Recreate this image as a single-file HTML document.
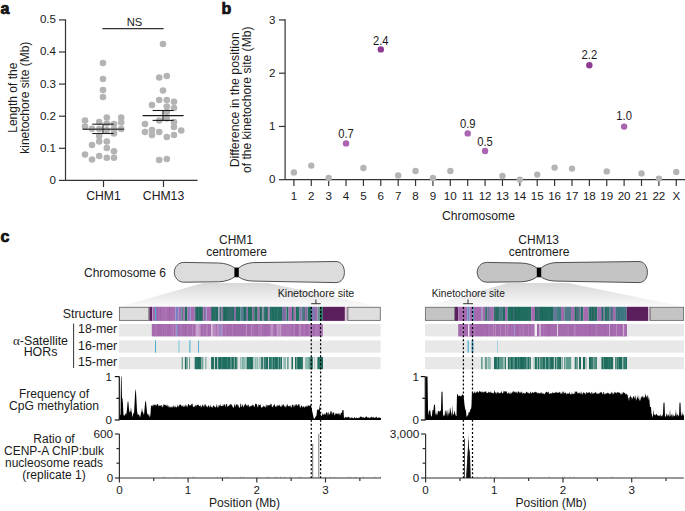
<!DOCTYPE html>
<html><head><meta charset="utf-8"><style>
html,body{margin:0;padding:0;background:#fff;width:685px;height:511px;overflow:hidden;}
svg{display:block;font-family:"Liberation Sans", sans-serif;}
text{fill:#1a1a1a;}
</style></head><body>
<svg width="685" height="511" viewBox="0 0 685 511">
<rect width="685" height="511" fill="#fff"/>
<text x="0.50" y="13.60" font-size="16" text-anchor="start" font-weight="bold" stroke="#000" stroke-width="0.7">a</text>
<text x="221.50" y="13.60" font-size="16" text-anchor="start" font-weight="bold" stroke="#000" stroke-width="0.7">b</text>
<text x="0.50" y="241.60" font-size="16" text-anchor="start" font-weight="bold" stroke="#000" stroke-width="0.7">c</text>
<line x1="65.50" y1="19.40" x2="65.50" y2="180.40" stroke="#333" stroke-width="1.2" />
<line x1="65.50" y1="180.40" x2="197.50" y2="180.40" stroke="#333" stroke-width="1.2" />
<line x1="59.00" y1="180.40" x2="65.50" y2="180.40" stroke="#333" stroke-width="1.2" />
<text x="56.00" y="183.80" font-size="11.6" text-anchor="end" font-weight="normal" >0</text>
<line x1="59.00" y1="148.30" x2="65.50" y2="148.30" stroke="#333" stroke-width="1.2" />
<text x="56.00" y="151.70" font-size="11.6" text-anchor="end" font-weight="normal" >0.1</text>
<line x1="59.00" y1="116.20" x2="65.50" y2="116.20" stroke="#333" stroke-width="1.2" />
<text x="56.00" y="119.60" font-size="11.6" text-anchor="end" font-weight="normal" >0.2</text>
<line x1="59.00" y1="84.10" x2="65.50" y2="84.10" stroke="#333" stroke-width="1.2" />
<text x="56.00" y="87.50" font-size="11.6" text-anchor="end" font-weight="normal" >0.3</text>
<line x1="59.00" y1="52.00" x2="65.50" y2="52.00" stroke="#333" stroke-width="1.2" />
<text x="56.00" y="55.40" font-size="11.6" text-anchor="end" font-weight="normal" >0.4</text>
<line x1="59.00" y1="19.90" x2="65.50" y2="19.90" stroke="#333" stroke-width="1.2" />
<text x="56.00" y="23.30" font-size="11.6" text-anchor="end" font-weight="normal" >0.5</text>
<line x1="103.50" y1="180.40" x2="103.50" y2="187.00" stroke="#333" stroke-width="1.2" />
<line x1="163.50" y1="180.40" x2="163.50" y2="187.00" stroke="#333" stroke-width="1.2" />
<text x="103.50" y="200.00" font-size="12.2" text-anchor="middle" font-weight="normal" >CHM1</text>
<text x="163.50" y="200.00" font-size="12.2" text-anchor="middle" font-weight="normal" >CHM13</text>
<line x1="102.40" y1="28.60" x2="163.60" y2="28.60" stroke="#333" stroke-width="1.2" />
<text x="134.50" y="25.60" font-size="11.2" text-anchor="middle" font-weight="normal" >NS</text>
<g transform="translate(0,0)">
<text x="0.00" y="0.00" font-size="12" text-anchor="middle" font-weight="normal" transform="translate(16.6,97.7) rotate(-90)">Length of the</text>
<text x="0.00" y="0.00" font-size="12" text-anchor="middle" font-weight="normal" transform="translate(28.6,97.7) rotate(-90)">kinetochore site (Mb)</text>
</g>
<circle cx="103.00" cy="63.00" r="3.3" fill="#b4b4b4"/>
<circle cx="103.00" cy="79.00" r="3.3" fill="#b4b4b4"/>
<circle cx="103.00" cy="90.00" r="3.3" fill="#b4b4b4"/>
<circle cx="103.00" cy="97.00" r="3.3" fill="#b4b4b4"/>
<circle cx="85.00" cy="120.50" r="3.3" fill="#b4b4b4"/>
<circle cx="85.00" cy="126.50" r="3.3" fill="#b4b4b4"/>
<circle cx="92.00" cy="128.80" r="3.3" fill="#b4b4b4"/>
<circle cx="99.20" cy="122.00" r="3.3" fill="#b4b4b4"/>
<circle cx="99.20" cy="129.00" r="3.3" fill="#b4b4b4"/>
<circle cx="99.20" cy="136.00" r="3.3" fill="#b4b4b4"/>
<circle cx="99.20" cy="141.50" r="3.3" fill="#b4b4b4"/>
<circle cx="106.80" cy="117.50" r="3.3" fill="#b4b4b4"/>
<circle cx="106.80" cy="123.50" r="3.3" fill="#b4b4b4"/>
<circle cx="106.80" cy="130.00" r="3.3" fill="#b4b4b4"/>
<circle cx="114.00" cy="124.00" r="3.3" fill="#b4b4b4"/>
<circle cx="114.00" cy="129.00" r="3.3" fill="#b4b4b4"/>
<circle cx="114.00" cy="133.50" r="3.3" fill="#b4b4b4"/>
<circle cx="121.20" cy="117.50" r="3.3" fill="#b4b4b4"/>
<circle cx="121.20" cy="122.50" r="3.3" fill="#b4b4b4"/>
<circle cx="121.20" cy="129.00" r="3.3" fill="#b4b4b4"/>
<circle cx="92.00" cy="145.00" r="3.3" fill="#b4b4b4"/>
<circle cx="106.80" cy="141.50" r="3.3" fill="#b4b4b4"/>
<circle cx="106.80" cy="148.00" r="3.3" fill="#b4b4b4"/>
<circle cx="114.00" cy="151.20" r="3.3" fill="#b4b4b4"/>
<circle cx="85.00" cy="154.50" r="3.3" fill="#b4b4b4"/>
<circle cx="92.00" cy="159.50" r="3.3" fill="#b4b4b4"/>
<circle cx="99.20" cy="156.00" r="3.3" fill="#b4b4b4"/>
<circle cx="106.80" cy="157.80" r="3.3" fill="#b4b4b4"/>
<circle cx="114.00" cy="157.80" r="3.3" fill="#b4b4b4"/>
<circle cx="163.00" cy="44.00" r="3.3" fill="#b4b4b4"/>
<circle cx="159.20" cy="77.50" r="3.3" fill="#b4b4b4"/>
<circle cx="166.80" cy="76.00" r="3.3" fill="#b4b4b4"/>
<circle cx="163.00" cy="90.50" r="3.3" fill="#b4b4b4"/>
<circle cx="159.20" cy="100.00" r="3.3" fill="#b4b4b4"/>
<circle cx="166.80" cy="100.00" r="3.3" fill="#b4b4b4"/>
<circle cx="174.00" cy="101.70" r="3.3" fill="#b4b4b4"/>
<circle cx="152.00" cy="105.00" r="3.3" fill="#b4b4b4"/>
<circle cx="166.80" cy="106.50" r="3.3" fill="#b4b4b4"/>
<circle cx="174.00" cy="108.00" r="3.3" fill="#b4b4b4"/>
<circle cx="166.80" cy="112.00" r="3.3" fill="#b4b4b4"/>
<circle cx="159.20" cy="120.50" r="3.3" fill="#b4b4b4"/>
<circle cx="166.80" cy="118.50" r="3.3" fill="#b4b4b4"/>
<circle cx="174.00" cy="122.00" r="3.3" fill="#b4b4b4"/>
<circle cx="145.00" cy="124.00" r="3.3" fill="#b4b4b4"/>
<circle cx="174.00" cy="127.00" r="3.3" fill="#b4b4b4"/>
<circle cx="152.00" cy="130.00" r="3.3" fill="#b4b4b4"/>
<circle cx="145.00" cy="132.00" r="3.3" fill="#b4b4b4"/>
<circle cx="152.00" cy="135.00" r="3.3" fill="#b4b4b4"/>
<circle cx="159.20" cy="132.00" r="3.3" fill="#b4b4b4"/>
<circle cx="166.80" cy="137.00" r="3.3" fill="#b4b4b4"/>
<circle cx="174.00" cy="135.00" r="3.3" fill="#b4b4b4"/>
<circle cx="181.20" cy="130.50" r="3.3" fill="#b4b4b4"/>
<circle cx="159.20" cy="160.00" r="3.3" fill="#b4b4b4"/>
<circle cx="166.80" cy="159.00" r="3.3" fill="#b4b4b4"/>
<line x1="82.50" y1="129.20" x2="124.00" y2="129.20" stroke="#4a4a4a" stroke-width="1.5" />
<line x1="92.20" y1="124.20" x2="113.80" y2="124.20" stroke="#222" stroke-width="1.1" />
<line x1="92.20" y1="133.50" x2="113.80" y2="133.50" stroke="#222" stroke-width="1.1" />
<line x1="103.00" y1="124.20" x2="103.00" y2="133.50" stroke="#222" stroke-width="1.1" />
<line x1="142.60" y1="115.60" x2="183.60" y2="115.60" stroke="#1a1a1a" stroke-width="1.1" />
<line x1="152.60" y1="110.50" x2="173.60" y2="110.50" stroke="#1a1a1a" stroke-width="1.1" />
<line x1="152.60" y1="120.40" x2="173.60" y2="120.40" stroke="#1a1a1a" stroke-width="1.1" />
<line x1="163.00" y1="110.50" x2="163.00" y2="120.40" stroke="#1a1a1a" stroke-width="1.1" />
<line x1="285.10" y1="19.30" x2="285.10" y2="179.70" stroke="#333" stroke-width="1.2" />
<line x1="285.10" y1="179.70" x2="685.00" y2="179.70" stroke="#333" stroke-width="1.2" />
<line x1="279.00" y1="179.70" x2="285.10" y2="179.70" stroke="#333" stroke-width="1.2" />
<text x="275.50" y="183.30" font-size="11.6" text-anchor="end" font-weight="normal" >0</text>
<line x1="279.00" y1="126.45" x2="285.10" y2="126.45" stroke="#333" stroke-width="1.2" />
<text x="275.50" y="130.05" font-size="11.6" text-anchor="end" font-weight="normal" >1</text>
<line x1="279.00" y1="73.20" x2="285.10" y2="73.20" stroke="#333" stroke-width="1.2" />
<text x="275.50" y="76.80" font-size="11.6" text-anchor="end" font-weight="normal" >2</text>
<line x1="279.00" y1="19.95" x2="285.10" y2="19.95" stroke="#333" stroke-width="1.2" />
<text x="275.50" y="23.55" font-size="11.6" text-anchor="end" font-weight="normal" >3</text>
<line x1="293.90" y1="179.70" x2="293.90" y2="186.00" stroke="#333" stroke-width="1.2" />
<text x="293.90" y="199.80" font-size="11.6" text-anchor="middle" font-weight="normal" >1</text>
<line x1="311.28" y1="179.70" x2="311.28" y2="186.00" stroke="#333" stroke-width="1.2" />
<text x="311.28" y="199.80" font-size="11.6" text-anchor="middle" font-weight="normal" >2</text>
<line x1="328.66" y1="179.70" x2="328.66" y2="186.00" stroke="#333" stroke-width="1.2" />
<text x="328.66" y="199.80" font-size="11.6" text-anchor="middle" font-weight="normal" >3</text>
<line x1="346.04" y1="179.70" x2="346.04" y2="186.00" stroke="#333" stroke-width="1.2" />
<text x="346.04" y="199.80" font-size="11.6" text-anchor="middle" font-weight="normal" >4</text>
<line x1="363.42" y1="179.70" x2="363.42" y2="186.00" stroke="#333" stroke-width="1.2" />
<text x="363.42" y="199.80" font-size="11.6" text-anchor="middle" font-weight="normal" >5</text>
<line x1="380.80" y1="179.70" x2="380.80" y2="186.00" stroke="#333" stroke-width="1.2" />
<text x="380.80" y="199.80" font-size="11.6" text-anchor="middle" font-weight="normal" >6</text>
<line x1="398.18" y1="179.70" x2="398.18" y2="186.00" stroke="#333" stroke-width="1.2" />
<text x="398.18" y="199.80" font-size="11.6" text-anchor="middle" font-weight="normal" >7</text>
<line x1="415.56" y1="179.70" x2="415.56" y2="186.00" stroke="#333" stroke-width="1.2" />
<text x="415.56" y="199.80" font-size="11.6" text-anchor="middle" font-weight="normal" >8</text>
<line x1="432.94" y1="179.70" x2="432.94" y2="186.00" stroke="#333" stroke-width="1.2" />
<text x="432.94" y="199.80" font-size="11.6" text-anchor="middle" font-weight="normal" >9</text>
<line x1="450.32" y1="179.70" x2="450.32" y2="186.00" stroke="#333" stroke-width="1.2" />
<text x="450.32" y="199.80" font-size="11.6" text-anchor="middle" font-weight="normal" >10</text>
<line x1="467.70" y1="179.70" x2="467.70" y2="186.00" stroke="#333" stroke-width="1.2" />
<text x="467.70" y="199.80" font-size="11.6" text-anchor="middle" font-weight="normal" >11</text>
<line x1="485.08" y1="179.70" x2="485.08" y2="186.00" stroke="#333" stroke-width="1.2" />
<text x="485.08" y="199.80" font-size="11.6" text-anchor="middle" font-weight="normal" >12</text>
<line x1="502.46" y1="179.70" x2="502.46" y2="186.00" stroke="#333" stroke-width="1.2" />
<text x="502.46" y="199.80" font-size="11.6" text-anchor="middle" font-weight="normal" >13</text>
<line x1="519.84" y1="179.70" x2="519.84" y2="186.00" stroke="#333" stroke-width="1.2" />
<text x="519.84" y="199.80" font-size="11.6" text-anchor="middle" font-weight="normal" >14</text>
<line x1="537.22" y1="179.70" x2="537.22" y2="186.00" stroke="#333" stroke-width="1.2" />
<text x="537.22" y="199.80" font-size="11.6" text-anchor="middle" font-weight="normal" >15</text>
<line x1="554.60" y1="179.70" x2="554.60" y2="186.00" stroke="#333" stroke-width="1.2" />
<text x="554.60" y="199.80" font-size="11.6" text-anchor="middle" font-weight="normal" >16</text>
<line x1="571.98" y1="179.70" x2="571.98" y2="186.00" stroke="#333" stroke-width="1.2" />
<text x="571.98" y="199.80" font-size="11.6" text-anchor="middle" font-weight="normal" >17</text>
<line x1="589.36" y1="179.70" x2="589.36" y2="186.00" stroke="#333" stroke-width="1.2" />
<text x="589.36" y="199.80" font-size="11.6" text-anchor="middle" font-weight="normal" >18</text>
<line x1="606.74" y1="179.70" x2="606.74" y2="186.00" stroke="#333" stroke-width="1.2" />
<text x="606.74" y="199.80" font-size="11.6" text-anchor="middle" font-weight="normal" >19</text>
<line x1="624.12" y1="179.70" x2="624.12" y2="186.00" stroke="#333" stroke-width="1.2" />
<text x="624.12" y="199.80" font-size="11.6" text-anchor="middle" font-weight="normal" >20</text>
<line x1="641.50" y1="179.70" x2="641.50" y2="186.00" stroke="#333" stroke-width="1.2" />
<text x="641.50" y="199.80" font-size="11.6" text-anchor="middle" font-weight="normal" >21</text>
<line x1="658.88" y1="179.70" x2="658.88" y2="186.00" stroke="#333" stroke-width="1.2" />
<text x="658.88" y="199.80" font-size="11.6" text-anchor="middle" font-weight="normal" >22</text>
<line x1="676.26" y1="179.70" x2="676.26" y2="186.00" stroke="#333" stroke-width="1.2" />
<text x="676.26" y="199.80" font-size="11.6" text-anchor="middle" font-weight="normal" >X</text>
<text x="478.50" y="219.50" font-size="12.15" text-anchor="middle" font-weight="normal" >Chromosome</text>
<text x="0.00" y="0.00" font-size="12.3" text-anchor="middle" font-weight="normal" transform="translate(239.2,99.8) rotate(-90)">Difference in the position</text>
<text x="0.00" y="0.00" font-size="12.1" text-anchor="middle" font-weight="normal" transform="translate(250.6,99.8) rotate(-90)">of the kinetochore site (Mb)</text>
<circle cx="293.90" cy="172.40" r="3.2" fill="#b4b4b4"/>
<circle cx="311.28" cy="165.60" r="3.2" fill="#b4b4b4"/>
<circle cx="328.66" cy="178.00" r="3.2" fill="#b4b4b4"/>
<text x="346.04" y="138.20" font-size="12.2" text-anchor="middle" font-weight="normal" textLength="15.6" lengthAdjust="spacingAndGlyphs">0.7</text>
<circle cx="346.04" cy="143.40" r="3.2" fill="#aa64b1"/>
<circle cx="363.42" cy="168.00" r="3.2" fill="#b4b4b4"/>
<text x="380.80" y="44.60" font-size="12.2" text-anchor="middle" font-weight="normal" textLength="15.6" lengthAdjust="spacingAndGlyphs">2.4</text>
<circle cx="380.80" cy="49.40" r="3.2" fill="#8e3b91"/>
<circle cx="398.18" cy="175.40" r="3.2" fill="#b4b4b4"/>
<circle cx="415.56" cy="171.00" r="3.2" fill="#b4b4b4"/>
<circle cx="432.94" cy="178.00" r="3.2" fill="#b4b4b4"/>
<circle cx="450.32" cy="171.00" r="3.2" fill="#b4b4b4"/>
<text x="467.70" y="128.40" font-size="12.2" text-anchor="middle" font-weight="normal" textLength="15.6" lengthAdjust="spacingAndGlyphs">0.9</text>
<circle cx="467.70" cy="133.40" r="3.2" fill="#aa64b1"/>
<text x="485.08" y="145.80" font-size="12.2" text-anchor="middle" font-weight="normal" textLength="15.6" lengthAdjust="spacingAndGlyphs">0.5</text>
<circle cx="485.08" cy="151.00" r="3.2" fill="#aa64b1"/>
<circle cx="502.46" cy="176.00" r="3.2" fill="#b4b4b4"/>
<circle cx="519.84" cy="179.60" r="3.2" fill="#b4b4b4"/>
<circle cx="537.22" cy="174.60" r="3.2" fill="#b4b4b4"/>
<circle cx="554.60" cy="167.60" r="3.2" fill="#b4b4b4"/>
<circle cx="571.98" cy="168.60" r="3.2" fill="#b4b4b4"/>
<text x="589.36" y="58.80" font-size="12.2" text-anchor="middle" font-weight="normal" textLength="15.6" lengthAdjust="spacingAndGlyphs">2.2</text>
<circle cx="589.36" cy="65.20" r="3.2" fill="#8e3b91"/>
<circle cx="606.74" cy="171.40" r="3.2" fill="#b4b4b4"/>
<text x="624.12" y="119.80" font-size="12.2" text-anchor="middle" font-weight="normal" textLength="15.6" lengthAdjust="spacingAndGlyphs">1.0</text>
<circle cx="624.12" cy="126.60" r="3.2" fill="#aa64b1"/>
<circle cx="641.50" cy="173.40" r="3.2" fill="#b4b4b4"/>
<circle cx="658.88" cy="178.60" r="3.2" fill="#b4b4b4"/>
<circle cx="676.26" cy="172.00" r="3.2" fill="#b4b4b4"/>
<defs><linearGradient id="g1" x1="0" y1="0" x2="0" y2="1"><stop offset="0" stop-color="#d8d8d8"/><stop offset="1" stop-color="#fbfbfb"/></linearGradient></defs>
<polygon points="203,283 268,283 380.6,306.8 119,306.8" fill="url(#g1)"/>
<defs><linearGradient id="g2" x1="0" y1="0" x2="0" y2="1"><stop offset="0" stop-color="#d8d8d8"/><stop offset="1" stop-color="#fbfbfb"/></linearGradient></defs>
<polygon points="508,283 568,283 684,306.8 425,306.8" fill="url(#g2)"/>
<path d="M234.4,267.9 C230.6,265.0 225.6,263.29999999999995 218.6,263.0 L183.8,262.4 C178.5,262.4 174.3,266.9 174.3,272.29999999999995 C174.3,277.69999999999993 178.5,282.2 183.8,282.2 L218.6,281.8 C225.6,281.5 230.6,279.8 234.4,276.9 L238.79999999999998,276.9 C242.6,279.59999999999997 246.6,280.8 253.6,281.09999999999997 L335.9,282.59999999999997 C341.4,282.59999999999997 344.4,277.9 344.4,272.29999999999995 C344.4,266.69999999999993 341.4,261.5 335.9,261.5 L253.6,262.59999999999997 C246.6,263.09999999999997 242.6,265.0 238.79999999999998,267.9 Z" fill="#dcdcdc" stroke="#2a2a2a" stroke-width="0.8"/>
<rect x="234.40" y="267.90" width="4.40" height="9.00" fill="#000" />
<path d="M536.8,267.9 C533,265.0 528,263.29999999999995 521,263.0 L486.7,262.4 C481.4,262.4 477.2,266.9 477.2,272.29999999999995 C477.2,277.69999999999993 481.4,282.2 486.7,282.2 L521,281.8 C528,281.5 533,279.8 536.8,276.9 L541.2,276.9 C545,279.59999999999997 549,280.8 556,281.09999999999997 L638.9,282.59999999999997 C644.4,282.59999999999997 647.4,277.9 647.4,272.29999999999995 C647.4,266.69999999999993 644.4,261.5 638.9,261.5 L556,262.59999999999997 C549,263.09999999999997 545,265.0 541.2,267.9 Z" fill="#c4c4c4" stroke="#2a2a2a" stroke-width="0.8"/>
<rect x="536.80" y="267.90" width="4.40" height="9.00" fill="#000" />
<text x="84.00" y="277.40" font-size="12" text-anchor="start" font-weight="normal" >Chromosome 6</text>
<text x="236.00" y="244.40" font-size="12" text-anchor="middle" font-weight="normal" >CHM1</text>
<text x="236.50" y="256.00" font-size="12" text-anchor="middle" font-weight="normal" >centromere</text>
<text x="538.70" y="244.40" font-size="12" text-anchor="middle" font-weight="normal" >CHM13</text>
<text x="539.00" y="256.00" font-size="12" text-anchor="middle" font-weight="normal" >centromere</text>
<rect x="149.30" y="306.80" width="2.70" height="14.10" fill="#5b1f5e" />
<rect x="152.00" y="306.80" width="0.60" height="14.10" fill="#8f8fb8" />
<rect x="152.60" y="306.80" width="22.90" height="14.10" fill="#a66aaf" />
<rect x="155.00" y="306.80" width="1.20" height="14.10" fill="#48abd3" />
<rect x="175.50" y="306.80" width="2.80" height="14.10" fill="#7c80c2" />
<rect x="178.30" y="306.80" width="3.20" height="14.10" fill="#9a70b4" />
<rect x="181.50" y="306.80" width="1.30" height="14.10" fill="#1e6d5e" />
<rect x="182.80" y="306.80" width="2.00" height="14.10" fill="#a66aaf" />
<rect x="184.80" y="306.80" width="2.70" height="14.10" fill="#1e6d5e" />
<rect x="187.50" y="306.80" width="1.50" height="14.10" fill="#a66aaf" />
<rect x="189.00" y="306.80" width="1.70" height="14.10" fill="#7c80c2" />
<rect x="190.70" y="306.80" width="4.00" height="14.10" fill="#a66aaf" />
<rect x="194.70" y="306.80" width="8.50" height="14.10" fill="#1e6d5e" />
<rect x="203.20" y="306.80" width="2.00" height="14.10" fill="#a66aaf" />
<rect x="205.20" y="306.80" width="1.30" height="14.10" fill="#7c80c2" />
<rect x="206.50" y="306.80" width="4.50" height="14.10" fill="#a66aaf" />
<rect x="211.00" y="306.80" width="7.30" height="14.10" fill="#1e6d5e" />
<rect x="218.30" y="306.80" width="1.30" height="14.10" fill="#a58cc0" />
<rect x="219.60" y="306.80" width="2.00" height="14.10" fill="#1e6d5e" />
<rect x="221.60" y="306.80" width="1.40" height="14.10" fill="#a66aaf" />
<rect x="223.00" y="306.80" width="11.00" height="14.10" fill="#1e6d5e" />
<rect x="234.00" y="306.80" width="2.00" height="14.10" fill="#8a6aa6" />
<rect x="236.00" y="306.80" width="4.60" height="14.10" fill="#1e6d5e" />
<rect x="240.60" y="306.80" width="3.40" height="14.10" fill="#5a7f95" />
<rect x="244.00" y="306.80" width="2.00" height="14.10" fill="#1e6d5e" />
<rect x="246.00" y="306.80" width="2.00" height="14.10" fill="#8c73a6" />
<rect x="248.00" y="306.80" width="4.50" height="14.10" fill="#1e6d5e" />
<rect x="252.50" y="306.80" width="1.90" height="14.10" fill="#a66aaf" />
<rect x="254.40" y="306.80" width="3.30" height="14.10" fill="#1e6d5e" />
<rect x="257.70" y="306.80" width="2.00" height="14.10" fill="#a66aaf" />
<rect x="259.70" y="306.80" width="2.60" height="14.10" fill="#1e6d5e" />
<rect x="262.30" y="306.80" width="1.30" height="14.10" fill="#7a7aa0" />
<rect x="263.60" y="306.80" width="4.60" height="14.10" fill="#1e6d5e" />
<rect x="268.20" y="306.80" width="1.30" height="14.10" fill="#a66aaf" />
<rect x="269.50" y="306.80" width="12.50" height="14.10" fill="#1e6d5e" />
<rect x="282.00" y="306.80" width="4.60" height="14.10" fill="#7f6fa5" />
<rect x="286.60" y="306.80" width="2.00" height="14.10" fill="#1e6d5e" />
<rect x="288.60" y="306.80" width="3.40" height="14.10" fill="#a66aaf" />
<rect x="292.00" y="306.80" width="1.80" height="14.10" fill="#1e6d5e" />
<rect x="293.80" y="306.80" width="2.00" height="14.10" fill="#a66aaf" />
<rect x="295.80" y="306.80" width="3.80" height="14.10" fill="#1e6d5e" />
<rect x="299.60" y="306.80" width="2.10" height="14.10" fill="#8a70a8" />
<rect x="301.70" y="306.80" width="3.30" height="14.10" fill="#4d7a86" />
<rect x="305.00" y="306.80" width="2.60" height="14.10" fill="#a66aaf" />
<rect x="307.60" y="306.80" width="3.40" height="14.10" fill="#1e6d5e" />
<rect x="311.00" y="306.80" width="4.00" height="14.10" fill="#7e78b0" />
<rect x="315.00" y="306.80" width="2.50" height="14.10" fill="#a66aaf" />
<rect x="317.50" y="306.80" width="2.00" height="14.10" fill="#6a8a95" />
<rect x="319.50" y="306.80" width="3.30" height="14.10" fill="#1e6d5e" />
<rect x="322.80" y="306.80" width="22.10" height="14.10" fill="#5b1f5e" />
<rect x="344.90" y="306.80" width="1.70" height="14.10" fill="#dccbdc" />
<rect x="346.60" y="306.80" width="1.00" height="14.10" fill="#a07aa0" />
<rect x="119.00" y="324.00" width="261.60" height="12.40" fill="#e8e8e8" />
<rect x="151.80" y="324.00" width="24.50" height="12.40" fill="#a66aaf" />
<rect x="176.30" y="324.00" width="1.60" height="12.40" fill="#7c80c2" />
<rect x="177.90" y="324.00" width="18.10" height="12.40" fill="#a66aaf" />
<rect x="196.00" y="324.00" width="3.30" height="12.40" fill="#c9a3cf" />
<rect x="199.30" y="324.00" width="11.70" height="12.40" fill="#a66aaf" />
<rect x="211.00" y="324.00" width="1.40" height="12.40" fill="#d9c3dc" />
<rect x="212.40" y="324.00" width="6.60" height="12.40" fill="#b88ac0" />
<rect x="219.00" y="324.00" width="3.30" height="12.40" fill="#9b84c4" />
<rect x="222.30" y="324.00" width="23.70" height="12.40" fill="#a66aaf" />
<rect x="246.00" y="324.00" width="1.00" height="12.40" fill="#c9a3cf" />
<rect x="247.00" y="324.00" width="23.80" height="12.40" fill="#a66aaf" />
<rect x="270.80" y="324.00" width="2.70" height="12.40" fill="#bb8fc3" />
<rect x="273.50" y="324.00" width="3.90" height="12.40" fill="#a66aaf" />
<rect x="277.40" y="324.00" width="4.00" height="12.40" fill="#c09ac6" />
<rect x="281.40" y="324.00" width="41.40" height="12.40" fill="#a66aaf" />
<rect x="119.00" y="340.40" width="261.60" height="12.30" fill="#e8e8e8" />
<rect x="155.00" y="340.40" width="1.00" height="12.30" fill="#48abd3" />
<rect x="178.40" y="340.40" width="1.20" height="12.30" fill="#8fcde0" />
<rect x="189.00" y="340.40" width="1.60" height="12.30" fill="#7cc4db" />
<rect x="198.00" y="340.40" width="0.90" height="12.30" fill="#48abd3" />
<rect x="119.00" y="357.00" width="261.60" height="12.20" fill="#e8e8e8" />
<rect x="181.80" y="357.00" width="0.80" height="12.20" fill="#1e6d5e" />
<rect x="184.90" y="357.00" width="2.60" height="12.20" fill="#1e6d5e" />
<rect x="189.00" y="357.00" width="0.60" height="12.20" fill="#1e6d5e" />
<rect x="194.70" y="357.00" width="8.60" height="12.20" fill="#1e6d5e" />
<rect x="205.20" y="357.00" width="1.30" height="12.20" fill="#8fbcb2" />
<rect x="211.10" y="357.00" width="26.30" height="12.20" fill="#1e6d5e" />
<rect x="241.40" y="357.00" width="4.60" height="12.20" fill="#8fbcb2" />
<rect x="246.60" y="357.00" width="6.60" height="12.20" fill="#1e6d5e" />
<rect x="254.50" y="357.00" width="3.30" height="12.20" fill="#8fbcb2" />
<rect x="261.00" y="357.00" width="2.00" height="12.20" fill="#1e6d5e" />
<rect x="263.50" y="357.00" width="4.50" height="12.20" fill="#1e6d5e" />
<rect x="268.80" y="357.00" width="13.20" height="12.20" fill="#1e6d5e" />
<rect x="283.30" y="357.00" width="2.70" height="12.20" fill="#8fbcb2" />
<rect x="287.20" y="357.00" width="1.30" height="12.20" fill="#1e6d5e" />
<rect x="291.80" y="357.00" width="1.20" height="12.20" fill="#1e6d5e" />
<rect x="295.00" y="357.00" width="8.00" height="12.20" fill="#1e6d5e" />
<rect x="305.00" y="357.00" width="5.20" height="12.20" fill="#8fbcb2" />
<rect x="310.20" y="357.00" width="2.60" height="12.20" fill="#1e6d5e" />
<rect x="317.40" y="357.00" width="5.60" height="12.20" fill="#1e6d5e" />
<rect x="157.14" y="306.8" width="0.86" height="14" fill="#9a60a6" opacity="0.7"/>
<rect x="160.21" y="306.8" width="0.72" height="14" fill="#9a60a6" opacity="0.7"/>
<rect x="162.01" y="306.8" width="0.73" height="14" fill="#b07bb8" opacity="0.7"/>
<rect x="164.04" y="306.8" width="0.34" height="14" fill="#b07bb8" opacity="0.7"/>
<rect x="165.40" y="306.8" width="0.84" height="14" fill="#b98ac0" opacity="0.7"/>
<rect x="169.12" y="306.8" width="0.76" height="14" fill="#9a60a6" opacity="0.7"/>
<rect x="173.90" y="306.8" width="0.38" height="14" fill="#b07bb8" opacity="0.7"/>
<rect x="195.00" y="306.8" width="0.89" height="14" fill="#a66aaf" opacity="0.5"/>
<rect x="197.31" y="306.8" width="0.34" height="14" fill="#175e50" opacity="0.5"/>
<rect x="198.45" y="306.8" width="0.70" height="14" fill="#6f7fa0" opacity="0.5"/>
<rect x="199.85" y="306.8" width="0.52" height="14" fill="#175e50" opacity="0.5"/>
<rect x="201.57" y="306.8" width="0.38" height="14" fill="#2f7e70" opacity="0.5"/>
<rect x="202.27" y="306.8" width="0.63" height="14" fill="#a66aaf" opacity="0.5"/>
<rect x="204.62" y="306.8" width="0.75" height="14" fill="#175e50" opacity="0.5"/>
<rect x="211.12" y="306.8" width="0.70" height="14" fill="#a66aaf" opacity="0.5"/>
<rect x="213.56" y="306.8" width="0.51" height="14" fill="#2f7e70" opacity="0.5"/>
<rect x="214.62" y="306.8" width="0.75" height="14" fill="#6f7fa0" opacity="0.5"/>
<rect x="220.52" y="306.8" width="0.47" height="14" fill="#a66aaf" opacity="0.5"/>
<rect x="222.12" y="306.8" width="0.57" height="14" fill="#2f7e70" opacity="0.5"/>
<rect x="223.49" y="306.8" width="0.37" height="14" fill="#6f7fa0" opacity="0.5"/>
<rect x="224.45" y="306.8" width="0.79" height="14" fill="#175e50" opacity="0.5"/>
<rect x="228.49" y="306.8" width="0.73" height="14" fill="#a66aaf" opacity="0.5"/>
<rect x="230.41" y="306.8" width="0.35" height="14" fill="#a66aaf" opacity="0.5"/>
<rect x="231.14" y="306.8" width="0.42" height="14" fill="#a66aaf" opacity="0.5"/>
<rect x="231.97" y="306.8" width="0.40" height="14" fill="#6f7fa0" opacity="0.5"/>
<rect x="234.71" y="306.8" width="0.32" height="14" fill="#6f7fa0" opacity="0.5"/>
<rect x="236.17" y="306.8" width="0.97" height="14" fill="#2f7e70" opacity="0.5"/>
<rect x="238.03" y="306.8" width="0.81" height="14" fill="#2f7e70" opacity="0.5"/>
<rect x="243.36" y="306.8" width="0.94" height="14" fill="#175e50" opacity="0.5"/>
<rect x="245.68" y="306.8" width="0.91" height="14" fill="#2f7e70" opacity="0.5"/>
<rect x="252.59" y="306.8" width="0.81" height="14" fill="#175e50" opacity="0.5"/>
<rect x="254.23" y="306.8" width="0.89" height="14" fill="#2f7e70" opacity="0.5"/>
<rect x="255.79" y="306.8" width="0.36" height="14" fill="#2f7e70" opacity="0.5"/>
<rect x="258.38" y="306.8" width="0.31" height="14" fill="#a66aaf" opacity="0.5"/>
<rect x="259.61" y="306.8" width="0.83" height="14" fill="#175e50" opacity="0.5"/>
<rect x="261.34" y="306.8" width="0.47" height="14" fill="#6f7fa0" opacity="0.5"/>
<rect x="264.35" y="306.8" width="0.92" height="14" fill="#6f7fa0" opacity="0.5"/>
<rect x="265.81" y="306.8" width="0.39" height="14" fill="#2f7e70" opacity="0.5"/>
<rect x="267.36" y="306.8" width="0.97" height="14" fill="#a66aaf" opacity="0.5"/>
<rect x="270.69" y="306.8" width="0.57" height="14" fill="#6f7fa0" opacity="0.5"/>
<rect x="273.99" y="306.8" width="0.88" height="14" fill="#2f7e70" opacity="0.5"/>
<rect x="275.98" y="306.8" width="0.50" height="14" fill="#2f7e70" opacity="0.5"/>
<rect x="277.55" y="306.8" width="0.58" height="14" fill="#6f7fa0" opacity="0.5"/>
<rect x="278.72" y="306.8" width="0.40" height="14" fill="#2f7e70" opacity="0.5"/>
<rect x="283.47" y="306.8" width="0.63" height="14" fill="#2f7e70" opacity="0.5"/>
<rect x="285.31" y="306.8" width="0.67" height="14" fill="#a66aaf" opacity="0.5"/>
<rect x="297.89" y="306.8" width="0.76" height="14" fill="#2f7e70" opacity="0.5"/>
<rect x="304.62" y="306.8" width="0.36" height="14" fill="#175e50" opacity="0.5"/>
<rect x="306.20" y="306.8" width="0.64" height="14" fill="#2f7e70" opacity="0.5"/>
<rect x="307.66" y="306.8" width="0.32" height="14" fill="#a66aaf" opacity="0.5"/>
<rect x="310.77" y="306.8" width="0.77" height="14" fill="#175e50" opacity="0.5"/>
<rect x="315.81" y="306.8" width="0.42" height="14" fill="#6f7fa0" opacity="0.5"/>
<rect x="321.97" y="306.8" width="0.03" height="14" fill="#175e50" opacity="0.5"/>
<rect x="155.51" y="324" width="0.78" height="12.4" fill="#bb8dc2" opacity="0.6"/>
<rect x="158.87" y="324" width="0.47" height="12.4" fill="#9c5fa8" opacity="0.6"/>
<rect x="161.91" y="324" width="0.52" height="12.4" fill="#bb8dc2" opacity="0.6"/>
<rect x="164.72" y="324" width="0.32" height="12.4" fill="#c9a3cf" opacity="0.6"/>
<rect x="166.17" y="324" width="0.53" height="12.4" fill="#bb8dc2" opacity="0.6"/>
<rect x="171.44" y="324" width="0.92" height="12.4" fill="#bb8dc2" opacity="0.6"/>
<rect x="173.16" y="324" width="0.67" height="12.4" fill="#c9a3cf" opacity="0.6"/>
<rect x="175.16" y="324" width="0.67" height="12.4" fill="#c9a3cf" opacity="0.6"/>
<rect x="180.67" y="324" width="0.52" height="12.4" fill="#c9a3cf" opacity="0.6"/>
<rect x="185.46" y="324" width="0.85" height="12.4" fill="#9c5fa8" opacity="0.6"/>
<rect x="187.37" y="324" width="0.86" height="12.4" fill="#bb8dc2" opacity="0.6"/>
<rect x="192.28" y="324" width="0.78" height="12.4" fill="#c9a3cf" opacity="0.6"/>
<rect x="195.29" y="324" width="0.93" height="12.4" fill="#c9a3cf" opacity="0.6"/>
<rect x="198.68" y="324" width="0.95" height="12.4" fill="#c9a3cf" opacity="0.6"/>
<rect x="200.09" y="324" width="0.78" height="12.4" fill="#c9a3cf" opacity="0.6"/>
<rect x="203.00" y="324" width="0.72" height="12.4" fill="#bb8dc2" opacity="0.6"/>
<rect x="204.07" y="324" width="0.44" height="12.4" fill="#9c5fa8" opacity="0.6"/>
<rect x="205.70" y="324" width="0.58" height="12.4" fill="#c9a3cf" opacity="0.6"/>
<rect x="206.70" y="324" width="0.85" height="12.4" fill="#c9a3cf" opacity="0.6"/>
<rect x="215.92" y="324" width="0.87" height="12.4" fill="#9c5fa8" opacity="0.6"/>
<rect x="221.12" y="324" width="0.54" height="12.4" fill="#c9a3cf" opacity="0.6"/>
<rect x="225.53" y="324" width="0.45" height="12.4" fill="#c9a3cf" opacity="0.6"/>
<rect x="232.33" y="324" width="0.48" height="12.4" fill="#c9a3cf" opacity="0.6"/>
<rect x="234.02" y="324" width="0.75" height="12.4" fill="#9c5fa8" opacity="0.6"/>
<rect x="241.90" y="324" width="0.95" height="12.4" fill="#9c5fa8" opacity="0.6"/>
<rect x="246.23" y="324" width="0.60" height="12.4" fill="#9c5fa8" opacity="0.6"/>
<rect x="247.76" y="324" width="0.72" height="12.4" fill="#9c5fa8" opacity="0.6"/>
<rect x="250.95" y="324" width="0.82" height="12.4" fill="#c9a3cf" opacity="0.6"/>
<rect x="252.77" y="324" width="0.74" height="12.4" fill="#bb8dc2" opacity="0.6"/>
<rect x="256.95" y="324" width="0.93" height="12.4" fill="#9c5fa8" opacity="0.6"/>
<rect x="258.49" y="324" width="0.83" height="12.4" fill="#c9a3cf" opacity="0.6"/>
<rect x="260.74" y="324" width="0.81" height="12.4" fill="#c9a3cf" opacity="0.6"/>
<rect x="263.80" y="324" width="0.44" height="12.4" fill="#bb8dc2" opacity="0.6"/>
<rect x="264.73" y="324" width="0.55" height="12.4" fill="#9c5fa8" opacity="0.6"/>
<rect x="272.93" y="324" width="0.74" height="12.4" fill="#9c5fa8" opacity="0.6"/>
<rect x="276.04" y="324" width="0.50" height="12.4" fill="#c9a3cf" opacity="0.6"/>
<rect x="277.43" y="324" width="0.76" height="12.4" fill="#bb8dc2" opacity="0.6"/>
<rect x="278.54" y="324" width="0.34" height="12.4" fill="#9c5fa8" opacity="0.6"/>
<rect x="279.21" y="324" width="0.33" height="12.4" fill="#9c5fa8" opacity="0.6"/>
<rect x="281.25" y="324" width="0.74" height="12.4" fill="#9c5fa8" opacity="0.6"/>
<rect x="282.72" y="324" width="0.54" height="12.4" fill="#c9a3cf" opacity="0.6"/>
<rect x="284.56" y="324" width="0.35" height="12.4" fill="#bb8dc2" opacity="0.6"/>
<rect x="286.22" y="324" width="0.84" height="12.4" fill="#bb8dc2" opacity="0.6"/>
<rect x="287.66" y="324" width="0.87" height="12.4" fill="#bb8dc2" opacity="0.6"/>
<rect x="289.83" y="324" width="0.72" height="12.4" fill="#bb8dc2" opacity="0.6"/>
<rect x="293.27" y="324" width="0.62" height="12.4" fill="#bb8dc2" opacity="0.6"/>
<rect x="294.29" y="324" width="0.69" height="12.4" fill="#bb8dc2" opacity="0.6"/>
<rect x="295.84" y="324" width="0.88" height="12.4" fill="#9c5fa8" opacity="0.6"/>
<rect x="297.28" y="324" width="0.76" height="12.4" fill="#9c5fa8" opacity="0.6"/>
<rect x="298.93" y="324" width="0.83" height="12.4" fill="#c9a3cf" opacity="0.6"/>
<rect x="300.33" y="324" width="0.76" height="12.4" fill="#c9a3cf" opacity="0.6"/>
<rect x="303.77" y="324" width="0.78" height="12.4" fill="#bb8dc2" opacity="0.6"/>
<rect x="305.81" y="324" width="0.51" height="12.4" fill="#9c5fa8" opacity="0.6"/>
<rect x="309.00" y="324" width="0.88" height="12.4" fill="#bb8dc2" opacity="0.6"/>
<rect x="310.65" y="324" width="0.57" height="12.4" fill="#bb8dc2" opacity="0.6"/>
<rect x="311.97" y="324" width="0.57" height="12.4" fill="#bb8dc2" opacity="0.6"/>
<rect x="315.30" y="324" width="0.50" height="12.4" fill="#bb8dc2" opacity="0.6"/>
<rect x="316.16" y="324" width="0.41" height="12.4" fill="#c9a3cf" opacity="0.6"/>
<rect x="317.66" y="324" width="0.86" height="12.4" fill="#bb8dc2" opacity="0.6"/>
<rect x="319.19" y="324" width="0.68" height="12.4" fill="#9c5fa8" opacity="0.6"/>
<rect x="321.05" y="324" width="0.93" height="12.4" fill="#bb8dc2" opacity="0.6"/>
<rect x="186.39" y="357" width="0.70" height="12.2" fill="#e8e8e8" opacity="0.7"/>
<rect x="200.96" y="357" width="0.49" height="12.2" fill="#e8e8e8" opacity="0.7"/>
<rect x="202.22" y="357" width="0.56" height="12.2" fill="#e8e8e8" opacity="0.7"/>
<rect x="203.65" y="357" width="0.67" height="12.2" fill="#e8e8e8" opacity="0.7"/>
<rect x="205.54" y="357" width="0.39" height="12.2" fill="#5e9c8e" opacity="0.7"/>
<rect x="238.64" y="357" width="0.55" height="12.2" fill="#e8e8e8" opacity="0.7"/>
<rect x="239.99" y="357" width="0.76" height="12.2" fill="#5e9c8e" opacity="0.7"/>
<rect x="242.36" y="357" width="0.72" height="12.2" fill="#5e9c8e" opacity="0.7"/>
<rect x="245.54" y="357" width="0.33" height="12.2" fill="#e8e8e8" opacity="0.7"/>
<rect x="252.60" y="357" width="0.61" height="12.2" fill="#5e9c8e" opacity="0.7"/>
<rect x="256.52" y="357" width="0.58" height="12.2" fill="#e8e8e8" opacity="0.7"/>
<rect x="257.63" y="357" width="0.67" height="12.2" fill="#5e9c8e" opacity="0.7"/>
<rect x="259.28" y="357" width="0.66" height="12.2" fill="#5e9c8e" opacity="0.7"/>
<rect x="260.35" y="357" width="0.37" height="12.2" fill="#17604f" opacity="0.7"/>
<rect x="261.77" y="357" width="0.39" height="12.2" fill="#e8e8e8" opacity="0.7"/>
<rect x="263.47" y="357" width="0.60" height="12.2" fill="#e8e8e8" opacity="0.7"/>
<rect x="268.31" y="357" width="0.37" height="12.2" fill="#e8e8e8" opacity="0.7"/>
<rect x="269.96" y="357" width="0.49" height="12.2" fill="#5e9c8e" opacity="0.7"/>
<rect x="272.85" y="357" width="0.69" height="12.2" fill="#17604f" opacity="0.7"/>
<rect x="274.48" y="357" width="0.43" height="12.2" fill="#5e9c8e" opacity="0.7"/>
<rect x="287.38" y="357" width="0.40" height="12.2" fill="#e8e8e8" opacity="0.7"/>
<rect x="288.66" y="357" width="0.51" height="12.2" fill="#e8e8e8" opacity="0.7"/>
<rect x="291.51" y="357" width="0.79" height="12.2" fill="#17604f" opacity="0.7"/>
<rect x="296.48" y="357" width="0.60" height="12.2" fill="#e8e8e8" opacity="0.7"/>
<rect x="297.73" y="357" width="0.75" height="12.2" fill="#17604f" opacity="0.7"/>
<rect x="308.48" y="357" width="0.56" height="12.2" fill="#5e9c8e" opacity="0.7"/>
<rect x="309.55" y="357" width="0.56" height="12.2" fill="#17604f" opacity="0.7"/>
<rect x="314.61" y="357" width="0.35" height="12.2" fill="#17604f" opacity="0.7"/>
<rect x="322.74" y="357" width="0.26" height="12.2" fill="#17604f" opacity="0.7"/>
<rect x="455.00" y="306.80" width="3.30" height="14.10" fill="#5b1f5e" />
<rect x="458.30" y="306.80" width="9.20" height="14.10" fill="#a66aaf" />
<rect x="467.50" y="306.80" width="1.90" height="14.10" fill="#48abd3" />
<rect x="469.40" y="306.80" width="3.30" height="14.10" fill="#a66aaf" />
<rect x="472.70" y="306.80" width="1.30" height="14.10" fill="#5aa0cc" />
<rect x="474.00" y="306.80" width="7.30" height="14.10" fill="#a66aaf" />
<rect x="481.30" y="306.80" width="1.30" height="14.10" fill="#7c80b0" />
<rect x="482.60" y="306.80" width="2.60" height="14.10" fill="#a66aaf" />
<rect x="485.20" y="306.80" width="2.00" height="14.10" fill="#1e6d5e" />
<rect x="487.20" y="306.80" width="3.80" height="14.10" fill="#8a73a8" />
<rect x="491.00" y="306.80" width="2.70" height="14.10" fill="#a66aaf" />
<rect x="493.70" y="306.80" width="5.30" height="14.10" fill="#1e6d5e" />
<rect x="499.00" y="306.80" width="4.00" height="14.10" fill="#4f7d88" />
<rect x="503.00" y="306.80" width="2.00" height="14.10" fill="#1e6d5e" />
<rect x="505.00" y="306.80" width="2.50" height="14.10" fill="#a66aaf" />
<rect x="507.50" y="306.80" width="23.70" height="14.10" fill="#1e6d5e" />
<rect x="531.20" y="306.80" width="3.80" height="14.10" fill="#a66aaf" />
<rect x="535.00" y="306.80" width="18.00" height="14.10" fill="#1e6d5e" />
<rect x="553.00" y="306.80" width="4.00" height="14.10" fill="#5f7a95" />
<rect x="557.00" y="306.80" width="4.00" height="14.10" fill="#3a7a80" />
<rect x="561.00" y="306.80" width="3.30" height="14.10" fill="#a66aaf" />
<rect x="564.30" y="306.80" width="6.70" height="14.10" fill="#4e7a8a" />
<rect x="571.00" y="306.80" width="3.80" height="14.10" fill="#a66aaf" />
<rect x="574.80" y="306.80" width="4.00" height="14.10" fill="#1e6d5e" />
<rect x="578.80" y="306.80" width="2.00" height="14.10" fill="#7b73a3" />
<rect x="580.80" y="306.80" width="2.60" height="14.10" fill="#1e6d5e" />
<rect x="583.40" y="306.80" width="5.20" height="14.10" fill="#a66aaf" />
<rect x="588.60" y="306.80" width="8.60" height="14.10" fill="#1e6d5e" />
<rect x="597.20" y="306.80" width="4.60" height="14.10" fill="#a66aaf" />
<rect x="601.80" y="306.80" width="1.20" height="14.10" fill="#1e6d5e" />
<rect x="603.00" y="306.80" width="1.40" height="14.10" fill="#8a70a8" />
<rect x="604.40" y="306.80" width="5.20" height="14.10" fill="#1e6d5e" />
<rect x="609.60" y="306.80" width="3.40" height="14.10" fill="#6f7a9c" />
<rect x="613.00" y="306.80" width="2.60" height="14.10" fill="#a66aaf" />
<rect x="615.60" y="306.80" width="11.10" height="14.10" fill="#3d7882" />
<rect x="626.70" y="306.80" width="21.70" height="14.10" fill="#5b1f5e" />
<rect x="648.40" y="306.80" width="1.00" height="14.10" fill="#dccbdc" />
<rect x="649.40" y="306.80" width="0.60" height="14.10" fill="#a07aa0" />
<rect x="425.00" y="324.00" width="259.00" height="12.40" fill="#e8e8e8" />
<rect x="458.20" y="324.00" width="168.80" height="12.40" fill="#a66aaf" />
<rect x="468.00" y="324.00" width="1.40" height="12.40" fill="#f2eef2" />
<rect x="513.80" y="324.00" width="1.20" height="12.40" fill="#9b90cc" />
<rect x="534.50" y="324.00" width="2.50" height="12.40" fill="#f2eef2" />
<rect x="539.50" y="324.00" width="1.00" height="12.40" fill="#f2eef2" />
<rect x="557.00" y="324.00" width="0.80" height="12.40" fill="#f2eef2" />
<rect x="609.00" y="324.00" width="0.80" height="12.40" fill="#eee4ee" />
<rect x="623.40" y="324.00" width="0.80" height="12.40" fill="#eee4ee" />
<rect x="425.00" y="340.40" width="259.00" height="12.30" fill="#e8e8e8" />
<rect x="467.60" y="340.40" width="1.20" height="12.30" fill="#48abd3" />
<rect x="471.60" y="340.40" width="1.80" height="12.30" fill="#48abd3" />
<rect x="497.00" y="340.40" width="0.80" height="12.30" fill="#8fcde0" />
<rect x="425.00" y="357.00" width="259.00" height="12.20" fill="#e8e8e8" />
<rect x="481.00" y="357.00" width="2.00" height="12.20" fill="#8fbcb2" />
<rect x="484.90" y="357.00" width="1.90" height="12.20" fill="#1e6d5e" />
<rect x="487.50" y="357.00" width="3.30" height="12.20" fill="#8fbcb2" />
<rect x="494.00" y="357.00" width="5.00" height="12.20" fill="#1e6d5e" />
<rect x="499.00" y="357.00" width="4.30" height="12.20" fill="#5b998a" />
<rect x="504.60" y="357.00" width="1.30" height="12.20" fill="#1e6d5e" />
<rect x="507.90" y="357.00" width="22.90" height="12.20" fill="#1e6d5e" />
<rect x="534.80" y="357.00" width="19.00" height="12.20" fill="#1e6d5e" />
<rect x="555.00" y="357.00" width="1.50" height="12.20" fill="#1e6d5e" />
<rect x="557.00" y="357.00" width="4.30" height="12.20" fill="#1e6d5e" />
<rect x="564.00" y="357.00" width="7.20" height="12.20" fill="#5e9a8d" />
<rect x="574.70" y="357.00" width="3.00" height="12.20" fill="#1e6d5e" />
<rect x="579.00" y="357.00" width="2.00" height="12.20" fill="#1e6d5e" />
<rect x="583.00" y="357.00" width="2.60" height="12.20" fill="#1e6d5e" />
<rect x="589.00" y="357.00" width="7.80" height="12.20" fill="#1e6d5e" />
<rect x="601.40" y="357.00" width="11.80" height="12.20" fill="#1e6d5e" />
<rect x="615.20" y="357.00" width="11.80" height="12.20" fill="#1e6d5e" />
<rect x="462.20" y="306.8" width="0.58" height="14" fill="#b07bb8" opacity="0.6"/>
<rect x="463.71" y="306.8" width="0.47" height="14" fill="#9a60a6" opacity="0.6"/>
<rect x="467.70" y="306.8" width="0.91" height="14" fill="#9a60a6" opacity="0.6"/>
<rect x="470.81" y="306.8" width="0.39" height="14" fill="#b07bb8" opacity="0.6"/>
<rect x="472.62" y="306.8" width="0.47" height="14" fill="#9a60a6" opacity="0.6"/>
<rect x="477.31" y="306.8" width="0.53" height="14" fill="#9a60a6" opacity="0.6"/>
<rect x="480.76" y="306.8" width="0.24" height="14" fill="#9a60a6" opacity="0.6"/>
<rect x="486.45" y="306.8" width="0.69" height="14" fill="#a66aaf" opacity="0.5"/>
<rect x="487.67" y="306.8" width="0.92" height="14" fill="#2f7e70" opacity="0.5"/>
<rect x="494.68" y="306.8" width="0.78" height="14" fill="#a66aaf" opacity="0.5"/>
<rect x="496.37" y="306.8" width="0.51" height="14" fill="#2f7e70" opacity="0.5"/>
<rect x="497.88" y="306.8" width="0.46" height="14" fill="#a66aaf" opacity="0.5"/>
<rect x="500.35" y="306.8" width="0.99" height="14" fill="#2f7e70" opacity="0.5"/>
<rect x="505.22" y="306.8" width="0.50" height="14" fill="#a66aaf" opacity="0.5"/>
<rect x="509.66" y="306.8" width="0.92" height="14" fill="#2f7e70" opacity="0.5"/>
<rect x="511.55" y="306.8" width="0.75" height="14" fill="#175e50" opacity="0.5"/>
<rect x="513.54" y="306.8" width="0.66" height="14" fill="#a66aaf" opacity="0.5"/>
<rect x="515.22" y="306.8" width="0.84" height="14" fill="#175e50" opacity="0.5"/>
<rect x="518.49" y="306.8" width="0.85" height="14" fill="#175e50" opacity="0.5"/>
<rect x="527.89" y="306.8" width="0.32" height="14" fill="#a66aaf" opacity="0.5"/>
<rect x="530.46" y="306.8" width="0.40" height="14" fill="#2f7e70" opacity="0.5"/>
<rect x="534.11" y="306.8" width="0.84" height="14" fill="#a66aaf" opacity="0.5"/>
<rect x="535.70" y="306.8" width="0.47" height="14" fill="#175e50" opacity="0.5"/>
<rect x="536.55" y="306.8" width="0.59" height="14" fill="#a66aaf" opacity="0.5"/>
<rect x="538.28" y="306.8" width="0.97" height="14" fill="#a66aaf" opacity="0.5"/>
<rect x="541.62" y="306.8" width="0.58" height="14" fill="#175e50" opacity="0.5"/>
<rect x="548.59" y="306.8" width="0.36" height="14" fill="#6f7fa0" opacity="0.5"/>
<rect x="556.72" y="306.8" width="0.85" height="14" fill="#6f7fa0" opacity="0.5"/>
<rect x="561.68" y="306.8" width="0.63" height="14" fill="#a66aaf" opacity="0.5"/>
<rect x="563.65" y="306.8" width="0.44" height="14" fill="#2f7e70" opacity="0.5"/>
<rect x="568.82" y="306.8" width="0.37" height="14" fill="#6f7fa0" opacity="0.5"/>
<rect x="572.41" y="306.8" width="0.90" height="14" fill="#6f7fa0" opacity="0.5"/>
<rect x="574.53" y="306.8" width="0.66" height="14" fill="#175e50" opacity="0.5"/>
<rect x="576.23" y="306.8" width="0.64" height="14" fill="#a66aaf" opacity="0.5"/>
<rect x="577.21" y="306.8" width="0.52" height="14" fill="#a66aaf" opacity="0.5"/>
<rect x="578.64" y="306.8" width="0.68" height="14" fill="#175e50" opacity="0.5"/>
<rect x="580.43" y="306.8" width="0.40" height="14" fill="#6f7fa0" opacity="0.5"/>
<rect x="581.77" y="306.8" width="0.61" height="14" fill="#6f7fa0" opacity="0.5"/>
<rect x="582.96" y="306.8" width="0.50" height="14" fill="#a66aaf" opacity="0.5"/>
<rect x="587.20" y="306.8" width="0.76" height="14" fill="#a66aaf" opacity="0.5"/>
<rect x="588.94" y="306.8" width="0.55" height="14" fill="#6f7fa0" opacity="0.5"/>
<rect x="590.07" y="306.8" width="0.74" height="14" fill="#175e50" opacity="0.5"/>
<rect x="591.25" y="306.8" width="0.65" height="14" fill="#6f7fa0" opacity="0.5"/>
<rect x="592.54" y="306.8" width="0.79" height="14" fill="#175e50" opacity="0.5"/>
<rect x="593.87" y="306.8" width="0.84" height="14" fill="#a66aaf" opacity="0.5"/>
<rect x="597.72" y="306.8" width="0.63" height="14" fill="#6f7fa0" opacity="0.5"/>
<rect x="599.50" y="306.8" width="0.32" height="14" fill="#6f7fa0" opacity="0.5"/>
<rect x="601.20" y="306.8" width="0.94" height="14" fill="#175e50" opacity="0.5"/>
<rect x="603.04" y="306.8" width="0.71" height="14" fill="#6f7fa0" opacity="0.5"/>
<rect x="605.11" y="306.8" width="0.35" height="14" fill="#6f7fa0" opacity="0.5"/>
<rect x="606.83" y="306.8" width="0.70" height="14" fill="#a66aaf" opacity="0.5"/>
<rect x="608.60" y="306.8" width="0.57" height="14" fill="#6f7fa0" opacity="0.5"/>
<rect x="609.50" y="306.8" width="0.80" height="14" fill="#2f7e70" opacity="0.5"/>
<rect x="611.35" y="306.8" width="0.73" height="14" fill="#175e50" opacity="0.5"/>
<rect x="612.46" y="306.8" width="0.35" height="14" fill="#175e50" opacity="0.5"/>
<rect x="613.57" y="306.8" width="0.94" height="14" fill="#a66aaf" opacity="0.5"/>
<rect x="615.63" y="306.8" width="0.49" height="14" fill="#175e50" opacity="0.5"/>
<rect x="617.59" y="306.8" width="0.40" height="14" fill="#a66aaf" opacity="0.5"/>
<rect x="618.60" y="306.8" width="0.45" height="14" fill="#175e50" opacity="0.5"/>
<rect x="624.38" y="306.8" width="0.37" height="14" fill="#a66aaf" opacity="0.5"/>
<rect x="460.30" y="324" width="0.69" height="12.4" fill="#9c5fa8" opacity="0.6"/>
<rect x="461.74" y="324" width="0.77" height="12.4" fill="#bb8dc2" opacity="0.6"/>
<rect x="463.10" y="324" width="0.53" height="12.4" fill="#bb8dc2" opacity="0.6"/>
<rect x="467.01" y="324" width="0.92" height="12.4" fill="#9c5fa8" opacity="0.6"/>
<rect x="468.84" y="324" width="0.78" height="12.4" fill="#bb8dc2" opacity="0.6"/>
<rect x="470.96" y="324" width="0.91" height="12.4" fill="#9c5fa8" opacity="0.6"/>
<rect x="474.07" y="324" width="0.74" height="12.4" fill="#bb8dc2" opacity="0.6"/>
<rect x="481.13" y="324" width="0.86" height="12.4" fill="#9c5fa8" opacity="0.6"/>
<rect x="486.88" y="324" width="0.95" height="12.4" fill="#9c5fa8" opacity="0.6"/>
<rect x="488.64" y="324" width="0.74" height="12.4" fill="#bb8dc2" opacity="0.6"/>
<rect x="491.64" y="324" width="0.33" height="12.4" fill="#bb8dc2" opacity="0.6"/>
<rect x="492.92" y="324" width="0.86" height="12.4" fill="#c9a3cf" opacity="0.6"/>
<rect x="495.08" y="324" width="0.90" height="12.4" fill="#c9a3cf" opacity="0.6"/>
<rect x="499.94" y="324" width="0.99" height="12.4" fill="#bb8dc2" opacity="0.6"/>
<rect x="505.08" y="324" width="0.92" height="12.4" fill="#c9a3cf" opacity="0.6"/>
<rect x="507.47" y="324" width="0.74" height="12.4" fill="#c9a3cf" opacity="0.6"/>
<rect x="510.01" y="324" width="0.41" height="12.4" fill="#9c5fa8" opacity="0.6"/>
<rect x="511.52" y="324" width="0.30" height="12.4" fill="#c9a3cf" opacity="0.6"/>
<rect x="517.44" y="324" width="0.74" height="12.4" fill="#9c5fa8" opacity="0.6"/>
<rect x="519.51" y="324" width="1.00" height="12.4" fill="#bb8dc2" opacity="0.6"/>
<rect x="522.71" y="324" width="0.77" height="12.4" fill="#c9a3cf" opacity="0.6"/>
<rect x="528.20" y="324" width="0.81" height="12.4" fill="#bb8dc2" opacity="0.6"/>
<rect x="531.56" y="324" width="0.97" height="12.4" fill="#bb8dc2" opacity="0.6"/>
<rect x="534.56" y="324" width="0.40" height="12.4" fill="#bb8dc2" opacity="0.6"/>
<rect x="537.20" y="324" width="0.75" height="12.4" fill="#9c5fa8" opacity="0.6"/>
<rect x="539.70" y="324" width="0.45" height="12.4" fill="#c9a3cf" opacity="0.6"/>
<rect x="542.54" y="324" width="0.37" height="12.4" fill="#9c5fa8" opacity="0.6"/>
<rect x="543.43" y="324" width="0.32" height="12.4" fill="#c9a3cf" opacity="0.6"/>
<rect x="547.63" y="324" width="0.83" height="12.4" fill="#9c5fa8" opacity="0.6"/>
<rect x="549.27" y="324" width="0.97" height="12.4" fill="#9c5fa8" opacity="0.6"/>
<rect x="567.84" y="324" width="0.50" height="12.4" fill="#c9a3cf" opacity="0.6"/>
<rect x="569.76" y="324" width="0.41" height="12.4" fill="#9c5fa8" opacity="0.6"/>
<rect x="574.39" y="324" width="0.99" height="12.4" fill="#c9a3cf" opacity="0.6"/>
<rect x="577.32" y="324" width="0.38" height="12.4" fill="#9c5fa8" opacity="0.6"/>
<rect x="589.71" y="324" width="0.86" height="12.4" fill="#9c5fa8" opacity="0.6"/>
<rect x="593.06" y="324" width="0.45" height="12.4" fill="#9c5fa8" opacity="0.6"/>
<rect x="595.65" y="324" width="0.93" height="12.4" fill="#bb8dc2" opacity="0.6"/>
<rect x="600.29" y="324" width="0.31" height="12.4" fill="#9c5fa8" opacity="0.6"/>
<rect x="604.38" y="324" width="0.71" height="12.4" fill="#9c5fa8" opacity="0.6"/>
<rect x="608.78" y="324" width="0.82" height="12.4" fill="#9c5fa8" opacity="0.6"/>
<rect x="610.82" y="324" width="0.44" height="12.4" fill="#9c5fa8" opacity="0.6"/>
<rect x="612.07" y="324" width="0.87" height="12.4" fill="#9c5fa8" opacity="0.6"/>
<rect x="613.41" y="324" width="0.39" height="12.4" fill="#bb8dc2" opacity="0.6"/>
<rect x="616.04" y="324" width="0.91" height="12.4" fill="#c9a3cf" opacity="0.6"/>
<rect x="621.11" y="324" width="0.34" height="12.4" fill="#9c5fa8" opacity="0.6"/>
<rect x="622.46" y="324" width="0.76" height="12.4" fill="#bb8dc2" opacity="0.6"/>
<rect x="624.35" y="324" width="0.77" height="12.4" fill="#9c5fa8" opacity="0.6"/>
<rect x="481.00" y="357" width="0.44" height="12.2" fill="#17604f" opacity="0.7"/>
<rect x="483.04" y="357" width="0.70" height="12.2" fill="#e8e8e8" opacity="0.7"/>
<rect x="484.91" y="357" width="0.63" height="12.2" fill="#e8e8e8" opacity="0.7"/>
<rect x="486.64" y="357" width="0.38" height="12.2" fill="#e8e8e8" opacity="0.7"/>
<rect x="496.83" y="357" width="0.48" height="12.2" fill="#5e9c8e" opacity="0.7"/>
<rect x="497.73" y="357" width="0.70" height="12.2" fill="#17604f" opacity="0.7"/>
<rect x="503.49" y="357" width="0.52" height="12.2" fill="#5e9c8e" opacity="0.7"/>
<rect x="508.88" y="357" width="0.55" height="12.2" fill="#17604f" opacity="0.7"/>
<rect x="511.32" y="357" width="0.48" height="12.2" fill="#17604f" opacity="0.7"/>
<rect x="512.59" y="357" width="0.33" height="12.2" fill="#5e9c8e" opacity="0.7"/>
<rect x="513.42" y="357" width="0.35" height="12.2" fill="#e8e8e8" opacity="0.7"/>
<rect x="515.05" y="357" width="0.55" height="12.2" fill="#17604f" opacity="0.7"/>
<rect x="521.02" y="357" width="0.66" height="12.2" fill="#17604f" opacity="0.7"/>
<rect x="526.42" y="357" width="0.49" height="12.2" fill="#e8e8e8" opacity="0.7"/>
<rect x="533.57" y="357" width="0.67" height="12.2" fill="#5e9c8e" opacity="0.7"/>
<rect x="536.42" y="357" width="0.47" height="12.2" fill="#5e9c8e" opacity="0.7"/>
<rect x="539.47" y="357" width="0.50" height="12.2" fill="#e8e8e8" opacity="0.7"/>
<rect x="549.64" y="357" width="0.39" height="12.2" fill="#5e9c8e" opacity="0.7"/>
<rect x="550.40" y="357" width="0.35" height="12.2" fill="#5e9c8e" opacity="0.7"/>
<rect x="554.29" y="357" width="0.50" height="12.2" fill="#5e9c8e" opacity="0.7"/>
<rect x="557.19" y="357" width="0.62" height="12.2" fill="#5e9c8e" opacity="0.7"/>
<rect x="560.19" y="357" width="0.62" height="12.2" fill="#17604f" opacity="0.7"/>
<rect x="562.02" y="357" width="0.59" height="12.2" fill="#17604f" opacity="0.7"/>
<rect x="565.34" y="357" width="0.71" height="12.2" fill="#e8e8e8" opacity="0.7"/>
<rect x="568.40" y="357" width="0.52" height="12.2" fill="#5e9c8e" opacity="0.7"/>
<rect x="575.82" y="357" width="0.63" height="12.2" fill="#e8e8e8" opacity="0.7"/>
<rect x="576.86" y="357" width="0.46" height="12.2" fill="#e8e8e8" opacity="0.7"/>
<rect x="579.62" y="357" width="0.77" height="12.2" fill="#17604f" opacity="0.7"/>
<rect x="583.11" y="357" width="0.69" height="12.2" fill="#17604f" opacity="0.7"/>
<rect x="585.13" y="357" width="0.69" height="12.2" fill="#e8e8e8" opacity="0.7"/>
<rect x="586.53" y="357" width="0.38" height="12.2" fill="#17604f" opacity="0.7"/>
<rect x="593.16" y="357" width="0.51" height="12.2" fill="#e8e8e8" opacity="0.7"/>
<rect x="594.93" y="357" width="0.43" height="12.2" fill="#e8e8e8" opacity="0.7"/>
<rect x="603.14" y="357" width="0.47" height="12.2" fill="#5e9c8e" opacity="0.7"/>
<rect x="613.71" y="357" width="0.43" height="12.2" fill="#e8e8e8" opacity="0.7"/>
<rect x="616.04" y="357" width="0.58" height="12.2" fill="#e8e8e8" opacity="0.7"/>
<rect x="617.25" y="357" width="0.44" height="12.2" fill="#17604f" opacity="0.7"/>
<rect x="619.62" y="357" width="0.37" height="12.2" fill="#17604f" opacity="0.7"/>
<rect x="622.16" y="357" width="0.62" height="12.2" fill="#5e9c8e" opacity="0.7"/>
<rect x="196.27" y="357" width="0.54" height="12.2" fill="#4f8f80" opacity="0.46"/>
<rect x="201.39" y="357" width="0.79" height="12.2" fill="#e8e8e8" opacity="0.55"/>
<rect x="213.95" y="357" width="0.98" height="12.2" fill="#e8e8e8" opacity="0.89"/>
<rect x="217.24" y="357" width="0.92" height="12.2" fill="#e8e8e8" opacity="0.87"/>
<rect x="221.76" y="357" width="0.48" height="12.2" fill="#8dbcb1" opacity="0.69"/>
<rect x="226.98" y="357" width="0.81" height="12.2" fill="#4f8f80" opacity="0.67"/>
<rect x="230.57" y="357" width="0.81" height="12.2" fill="#e8e8e8" opacity="0.66"/>
<rect x="233.85" y="357" width="0.70" height="12.2" fill="#e8e8e8" opacity="0.84"/>
<rect x="236.11" y="357" width="0.48" height="12.2" fill="#e8e8e8" opacity="0.44"/>
<rect x="248.63" y="357" width="0.98" height="12.2" fill="#4f8f80" opacity="0.44"/>
<rect x="264.86" y="357" width="0.53" height="12.2" fill="#8dbcb1" opacity="0.87"/>
<rect x="271.69" y="357" width="0.96" height="12.2" fill="#8dbcb1" opacity="0.87"/>
<rect x="273.92" y="357" width="0.69" height="12.2" fill="#4f8f80" opacity="0.90"/>
<rect x="277.87" y="357" width="0.94" height="12.2" fill="#8dbcb1" opacity="0.87"/>
<rect x="280.32" y="357" width="0.71" height="12.2" fill="#e8e8e8" opacity="0.45"/>
<rect x="296.46" y="357" width="0.99" height="12.2" fill="#8dbcb1" opacity="0.42"/>
<rect x="301.64" y="357" width="0.81" height="12.2" fill="#4f8f80" opacity="0.82"/>
<rect x="319.68" y="357" width="0.45" height="12.2" fill="#8dbcb1" opacity="0.43"/>
<rect x="496.95" y="357" width="0.90" height="12.2" fill="#8dbcb1" opacity="0.58"/>
<rect x="509.56" y="357" width="0.94" height="12.2" fill="#e8e8e8" opacity="0.53"/>
<rect x="513.81" y="357" width="0.72" height="12.2" fill="#8dbcb1" opacity="0.66"/>
<rect x="516.99" y="357" width="0.79" height="12.2" fill="#8dbcb1" opacity="0.49"/>
<rect x="519.52" y="357" width="0.55" height="12.2" fill="#8dbcb1" opacity="0.51"/>
<rect x="524.58" y="357" width="0.51" height="12.2" fill="#4f8f80" opacity="0.73"/>
<rect x="527.23" y="357" width="0.71" height="12.2" fill="#8dbcb1" opacity="0.69"/>
<rect x="529.22" y="357" width="0.59" height="12.2" fill="#e8e8e8" opacity="0.55"/>
<rect x="537.20" y="357" width="0.80" height="12.2" fill="#e8e8e8" opacity="0.67"/>
<rect x="539.49" y="357" width="0.86" height="12.2" fill="#e8e8e8" opacity="0.62"/>
<rect x="541.71" y="357" width="0.73" height="12.2" fill="#e8e8e8" opacity="0.59"/>
<rect x="544.92" y="357" width="0.95" height="12.2" fill="#8dbcb1" opacity="0.90"/>
<rect x="548.58" y="357" width="0.80" height="12.2" fill="#e8e8e8" opacity="0.57"/>
<rect x="558.63" y="357" width="0.57" height="12.2" fill="#4f8f80" opacity="0.87"/>
<rect x="591.81" y="357" width="0.43" height="12.2" fill="#e8e8e8" opacity="0.59"/>
<rect x="593.67" y="357" width="0.95" height="12.2" fill="#e8e8e8" opacity="0.43"/>
<rect x="603.28" y="357" width="0.54" height="12.2" fill="#8dbcb1" opacity="0.57"/>
<rect x="608.37" y="357" width="0.49" height="12.2" fill="#4f8f80" opacity="0.56"/>
<rect x="610.21" y="357" width="0.54" height="12.2" fill="#4f8f80" opacity="0.74"/>
<rect x="617.60" y="357" width="0.97" height="12.2" fill="#8dbcb1" opacity="0.58"/>
<rect x="622.38" y="357" width="0.95" height="12.2" fill="#e8e8e8" opacity="0.87"/>
<rect x="624.80" y="357" width="0.51" height="12.2" fill="#8dbcb1" opacity="0.74"/>
<rect x="119.40" y="307.3" width="29.40" height="13.1" fill="#dedede" stroke="#6e6e6e" stroke-width="0.9"/>
<rect x="347.90" y="307.3" width="32.40" height="13.1" fill="#dedede" stroke="#6e6e6e" stroke-width="0.9"/>
<rect x="425.40" y="307.3" width="29.20" height="13.1" fill="#c4c4c4" stroke="#6e6e6e" stroke-width="0.9"/>
<rect x="650.20" y="307.3" width="33.40" height="13.1" fill="#c4c4c4" stroke="#6e6e6e" stroke-width="0.9"/>
<text x="113.00" y="317.80" font-size="12.4" text-anchor="end" font-weight="normal" >Structure</text>
<line x1="73.60" y1="323.60" x2="73.60" y2="368.00" stroke="#333" stroke-width="1" />
<text x="78.00" y="333.40" font-size="12.4" text-anchor="start" font-weight="normal" >18-mer</text>
<text x="78.00" y="349.80" font-size="12.4" text-anchor="start" font-weight="normal" >16-mer</text>
<text x="78.00" y="366.20" font-size="12.4" text-anchor="start" font-weight="normal" >15-mer</text>
<text x="40.50" y="344.50" font-size="12.4" text-anchor="middle" font-weight="normal" ><tspan font-family="Liberation Serif" font-size="13">α</tspan>-Satellite</text>
<text x="40.50" y="355.50" font-size="12.4" text-anchor="middle" font-weight="normal" >HORs</text>
<text x="54.00" y="397.60" font-size="12" text-anchor="middle" font-weight="normal" >Frequency of</text>
<text x="54.00" y="409.60" font-size="12.1" text-anchor="middle" font-weight="normal" >CpG methylation</text>
<text x="54.00" y="443.40" font-size="12" text-anchor="middle" font-weight="normal" >Ratio of</text>
<text x="54.00" y="455.40" font-size="12" text-anchor="middle" font-weight="normal" >CENP-A ChIP:bulk</text>
<text x="54.00" y="467.40" font-size="12" text-anchor="middle" font-weight="normal" >nucleosome reads</text>
<text x="54.00" y="479.40" font-size="12" text-anchor="middle" font-weight="normal" >(replicate 1)</text>
<polygon points="119.50,420 119.50,414.79 120.00,414.79 120.50,414.79 121.00,376.60 121.50,376.60 122.00,398.30 122.50,398.30 123.00,404.81 123.50,415.88 124.00,414.29 124.50,416.17 125.00,414.66 125.50,412.87 126.00,415.14 126.50,412.95 127.00,409.19 127.50,403.16 128.00,400.47 128.50,403.16 129.00,409.19 129.50,411.90 130.00,412.15 130.50,411.19 131.00,406.98 131.50,411.19 132.00,413.95 132.50,417.19 133.00,414.89 133.50,412.40 134.00,413.13 134.50,404.73 135.00,394.75 135.50,388.94 136.00,391.57 136.50,400.65 137.00,410.20 137.50,413.71 138.00,415.16 138.50,414.28 139.00,414.53 139.50,416.12 140.00,417.55 140.50,415.39 141.00,412.83 141.50,411.78 142.00,407.85 142.50,411.78 143.00,411.99 143.50,414.11 144.00,414.71 144.50,409.47 145.00,403.75 145.50,400.57 146.00,402.00 146.50,407.08 147.00,412.68 147.50,414.42 148.00,413.65 148.50,416.31 149.00,413.32 149.50,416.82 150.00,416.96 150.50,414.31 151.00,405.19 151.50,405.98 152.00,405.30 152.50,406.74 153.00,403.73 153.50,405.71 154.00,404.91 154.50,405.15 155.00,403.98 155.50,404.99 156.00,405.82 156.50,405.41 157.00,403.86 157.50,404.53 158.00,403.80 158.50,406.49 159.00,405.44 159.50,406.10 160.00,404.80 160.50,406.37 161.00,405.08 161.50,405.10 162.00,407.83 162.50,405.77 163.00,407.36 163.50,404.61 164.00,404.37 164.50,405.02 165.00,404.87 165.50,404.97 166.00,406.11 166.50,405.69 167.00,404.17 167.50,405.38 168.00,407.60 168.50,406.46 169.00,405.07 169.50,407.58 170.00,407.23 170.50,407.73 171.00,405.51 171.50,407.63 172.00,406.63 172.50,407.63 173.00,405.32 173.50,406.12 174.00,407.67 174.50,407.00 175.00,405.10 175.50,407.40 176.00,406.32 176.50,407.60 177.00,407.53 177.50,404.12 178.00,407.19 178.50,406.48 179.00,404.96 179.50,405.67 180.00,403.83 180.50,405.04 181.00,404.86 181.50,405.91 182.00,406.55 182.50,404.95 183.00,407.29 183.50,406.78 184.00,404.68 184.50,406.66 185.00,406.56 185.50,404.02 186.00,407.34 186.50,405.78 187.00,404.75 187.50,407.66 188.00,404.34 188.50,403.70 189.00,404.99 189.50,405.80 190.00,405.05 190.50,404.92 191.00,406.11 191.50,403.77 192.00,404.09 192.50,403.61 193.00,407.15 193.50,406.72 194.00,406.60 194.50,406.16 195.00,406.74 195.50,405.20 196.00,404.49 196.50,406.71 197.00,404.77 197.50,405.03 198.00,404.60 198.50,404.94 199.00,405.95 199.50,406.08 200.00,406.14 200.50,404.59 201.00,407.84 201.50,406.70 202.00,405.71 202.50,403.84 203.00,406.87 203.50,404.76 204.00,407.68 204.50,404.01 205.00,405.68 205.50,403.60 206.00,406.85 206.50,405.16 207.00,407.34 207.50,407.18 208.00,405.98 208.50,405.82 209.00,404.85 209.50,407.73 210.00,406.69 210.50,404.50 211.00,407.40 211.50,406.42 212.00,407.61 212.50,407.73 213.00,405.54 213.50,405.33 214.00,406.53 214.50,405.83 215.00,407.60 215.50,407.37 216.00,406.90 216.50,403.54 217.00,407.56 217.50,407.43 218.00,404.79 218.50,407.63 219.00,404.56 219.50,405.56 220.00,406.60 220.50,403.80 221.00,406.27 221.50,405.96 222.00,406.12 222.50,406.37 223.00,403.69 223.50,406.57 224.00,404.12 224.50,404.13 225.00,405.54 225.50,406.91 226.00,403.85 226.50,404.42 227.00,403.87 227.50,407.50 228.00,405.98 228.50,405.78 229.00,406.04 229.50,405.12 230.00,404.34 230.50,403.83 231.00,405.68 231.50,403.74 232.00,405.30 232.50,406.03 233.00,407.79 233.50,407.47 234.00,407.06 234.50,403.56 235.00,405.18 235.50,407.05 236.00,403.64 236.50,404.43 237.00,405.31 237.50,403.79 238.00,406.68 238.50,404.39 239.00,407.67 239.50,407.60 240.00,407.58 240.50,403.61 241.00,403.72 241.50,407.01 242.00,406.75 242.50,403.92 243.00,405.46 243.50,407.84 244.00,405.83 244.50,405.18 245.00,404.08 245.50,403.53 246.00,405.69 246.50,404.44 247.00,406.79 247.50,404.31 248.00,406.81 248.50,404.10 249.00,406.07 249.50,407.47 250.00,405.40 250.50,406.78 251.00,405.37 251.50,406.10 252.00,406.19 252.50,404.62 253.00,404.68 253.50,405.16 254.00,406.95 254.50,406.78 255.00,404.63 255.50,403.57 256.00,404.06 256.50,403.83 257.00,405.08 257.50,406.39 258.00,407.75 258.50,404.22 259.00,404.72 259.50,405.34 260.00,404.64 260.50,404.07 261.00,407.02 261.50,407.70 262.00,407.45 262.50,406.69 263.00,406.95 263.50,404.97 264.00,406.96 264.50,405.96 265.00,406.93 265.50,407.75 266.00,404.06 266.50,405.15 267.00,407.46 267.50,404.66 268.00,405.13 268.50,405.46 269.00,404.99 269.50,404.91 270.00,405.66 270.50,404.37 271.00,403.81 271.50,404.00 272.00,407.52 272.50,406.86 273.00,406.86 273.50,405.23 274.00,405.25 274.50,403.52 275.00,405.87 275.50,406.92 276.00,406.55 276.50,405.24 277.00,407.48 277.50,405.30 278.00,404.69 278.50,405.40 279.00,406.15 279.50,404.20 280.00,406.35 280.50,406.00 281.00,407.46 281.50,406.20 282.00,404.10 282.50,406.55 283.00,403.70 283.50,404.60 284.00,405.97 284.50,405.69 285.00,407.62 285.50,406.91 286.00,405.02 286.50,407.56 287.00,403.60 287.50,404.76 288.00,406.37 288.50,406.27 289.00,405.77 289.50,406.74 290.00,404.89 290.50,406.08 291.00,407.17 291.50,407.74 292.00,404.58 292.50,405.31 293.00,404.33 293.50,405.64 294.00,407.75 294.50,404.56 295.00,406.36 295.50,403.71 296.00,406.43 296.50,403.84 297.00,404.40 297.50,405.70 298.00,405.73 298.50,403.92 299.00,403.65 299.50,404.91 300.00,407.42 300.50,407.64 301.00,405.84 301.50,405.43 302.00,405.94 302.50,407.75 303.00,406.59 303.50,405.97 304.00,407.62 304.50,407.81 305.00,405.48 305.50,407.12 306.00,406.27 306.50,406.91 307.00,404.79 307.50,407.21 308.00,405.34 308.50,405.62 309.00,405.51 309.50,406.12 310.00,406.09 310.50,404.43 311.00,405.68 311.50,407.92 312.00,410.16 312.50,412.40 313.00,414.65 313.50,416.89 314.00,419.13 314.50,418.41 315.00,417.69 315.50,416.96 316.00,416.24 316.50,415.52 317.00,410.44 317.50,409.00 318.00,410.55 318.50,409.02 319.00,410.28 319.50,404.13 320.00,410.37 320.50,414.61 321.00,415.26 321.50,416.00 322.00,415.84 322.50,413.57 323.00,413.21 323.50,414.83 324.00,414.66 324.50,413.38 325.00,414.52 325.50,414.70 326.00,412.57 326.50,412.17 327.00,412.42 327.50,413.05 328.00,415.97 328.50,412.11 329.00,412.67 329.50,414.87 330.00,413.90 330.50,411.32 331.00,411.32 331.50,411.32 332.00,414.71 332.50,413.28 333.00,412.09 333.50,412.67 334.00,412.25 334.50,415.33 335.00,415.30 335.50,413.52 336.00,412.78 336.50,414.04 337.00,413.47 337.50,414.58 338.00,412.75 338.50,414.71 339.00,412.39 339.50,414.01 340.00,415.84 340.50,413.95 341.00,413.19 341.50,412.40 342.00,412.86 342.50,410.02 343.00,410.02 343.50,410.02 344.00,418.43 344.50,417.78 345.00,417.19 345.50,416.83 346.00,417.41 346.50,417.32 347.00,417.64 347.50,416.76 348.00,417.57 348.50,416.51 349.00,417.15 349.50,417.28 350.00,418.39 350.50,418.15 351.00,417.01 351.50,418.36 352.00,416.79 352.50,418.00 353.00,418.44 353.50,417.94 354.00,418.47 354.50,416.48 355.00,417.83 355.50,418.45 356.00,417.69 356.50,417.58 357.00,418.11 357.50,418.11 358.00,418.13 358.50,418.27 359.00,417.01 359.50,418.07 360.00,417.30 360.50,416.57 361.00,416.59 361.50,416.75 362.00,417.52 362.50,416.92 363.00,417.95 363.50,416.71 364.00,417.69 364.50,417.90 365.00,417.52 365.50,417.23 366.00,416.32 366.50,416.74 367.00,416.65 367.50,417.86 368.00,417.84 368.50,417.63 369.00,417.08 369.50,418.40 370.00,417.49 370.50,417.35 371.00,417.68 371.50,416.48 372.00,417.27 372.50,417.48 373.00,417.68 373.50,416.43 374.00,418.28 374.50,417.39 375.00,417.99 375.50,417.22 376.00,417.06 376.50,416.59 377.00,418.06 377.50,418.24 378.00,417.32 378.50,417.75 379.00,417.56 379.50,417.27 380.00,418.40 380.50,417.85 381.00,417.71 381.00,420" fill="#000"/>
<polygon points="425.50,420 425.50,406.98 426.00,376.60 426.50,376.60 427.00,376.60 427.50,376.60 428.00,409.50 428.50,416.08 429.00,410.72 429.50,411.10 430.00,409.23 430.50,412.34 431.00,416.53 431.50,416.43 432.00,415.07 432.50,409.65 433.00,410.62 433.50,409.76 434.00,404.81 434.50,404.81 435.00,404.81 435.50,415.58 436.00,412.88 436.50,415.52 437.00,410.74 437.50,415.67 438.00,411.29 438.50,410.78 439.00,411.18 439.50,411.92 440.00,410.67 440.50,411.17 441.00,409.44 441.50,391.79 442.00,391.79 442.50,391.79 443.00,413.72 443.50,416.69 444.00,414.85 444.50,416.31 445.00,411.53 445.50,409.65 446.00,416.02 446.50,411.88 447.00,409.66 447.50,416.91 448.00,408.55 448.50,416.05 449.00,412.20 449.50,413.92 450.00,406.98 450.50,408.91 451.00,411.93 451.50,413.46 452.00,416.63 452.50,404.79 453.00,415.20 453.50,414.03 454.00,414.12 454.50,410.25 455.00,412.16 455.50,415.08 456.00,415.83 456.50,415.88 457.00,393.57 457.50,394.21 458.00,394.94 458.50,396.20 459.00,396.37 459.50,395.43 460.00,395.48 460.50,396.74 461.00,395.18 461.50,396.75 462.00,394.13 462.50,394.25 463.00,395.58 463.50,395.68 464.00,399.74 464.50,404.87 465.00,408.06 465.50,409.88 466.00,410.39 466.50,416.60 467.00,416.77 467.50,415.10 468.00,415.67 468.50,413.18 469.00,411.75 469.50,412.48 470.00,411.28 470.50,408.75 471.00,409.29 471.50,405.85 472.00,391.07 472.50,393.42 473.00,392.95 473.50,393.01 474.00,393.46 474.50,391.81 475.00,391.14 475.50,393.01 476.00,393.41 476.50,391.70 477.00,391.73 477.50,391.11 478.00,392.95 478.50,392.33 479.00,392.06 479.50,390.61 480.00,391.82 480.50,392.06 481.00,390.92 481.50,393.01 482.00,390.80 482.50,392.29 483.00,392.19 483.50,392.68 484.00,391.61 484.50,391.76 485.00,391.90 485.50,391.38 486.00,391.07 486.50,393.32 487.00,392.43 487.50,393.06 488.00,393.14 488.50,391.51 489.00,392.01 489.50,391.90 490.00,393.51 490.50,391.82 491.00,391.34 491.50,393.31 492.00,392.82 492.50,392.79 493.00,393.50 493.50,393.14 494.00,392.54 494.50,389.67 495.00,392.49 495.50,392.16 496.00,393.46 496.50,393.66 497.00,391.34 497.50,392.82 498.00,392.83 498.50,392.02 499.00,393.80 499.50,392.98 500.00,393.11 500.50,393.34 501.00,391.40 501.50,391.22 502.00,393.18 502.50,392.91 503.00,393.71 503.50,390.47 504.00,392.73 504.50,391.10 505.00,391.19 505.50,391.17 506.00,391.90 506.50,391.11 507.00,392.69 507.50,393.74 508.00,393.59 508.50,393.10 509.00,391.28 509.50,394.05 510.00,393.63 510.50,393.72 511.00,391.84 511.50,393.60 512.00,393.52 512.50,391.70 513.00,391.60 513.50,391.12 514.00,392.87 514.50,391.78 515.00,391.33 515.50,392.60 516.00,392.84 516.50,391.20 517.00,393.64 517.50,392.67 518.00,391.30 518.50,391.65 519.00,391.57 519.50,392.48 520.00,393.62 520.50,391.49 521.00,393.35 521.50,392.11 522.00,391.31 522.50,393.97 523.00,393.47 523.50,392.89 524.00,392.70 524.50,393.95 525.00,392.34 525.50,393.92 526.00,392.62 526.50,391.68 527.00,391.83 527.50,393.49 528.00,391.44 528.50,393.84 529.00,392.80 529.50,393.41 530.00,393.76 530.50,391.33 531.00,392.51 531.50,393.71 532.00,392.45 532.50,392.12 533.00,392.64 533.50,392.63 534.00,392.63 534.50,392.14 535.00,391.84 535.50,391.82 536.00,392.82 536.50,392.55 537.00,391.87 537.50,394.04 538.00,392.61 538.50,392.88 539.00,393.33 539.50,392.97 540.00,393.91 540.50,392.02 541.00,393.94 541.50,392.41 542.00,392.33 542.50,393.79 543.00,393.43 543.50,393.44 544.00,394.11 544.50,394.24 545.00,393.40 545.50,392.78 546.00,391.91 546.50,391.64 547.00,391.87 547.50,393.02 548.00,392.11 548.50,391.46 549.00,394.04 549.50,393.88 550.00,392.48 550.50,394.08 551.00,393.13 551.50,393.26 552.00,393.77 552.50,392.45 553.00,392.11 553.50,393.43 554.00,393.00 554.50,393.02 555.00,392.62 555.50,392.80 556.00,391.52 556.50,392.47 557.00,393.01 557.50,393.12 558.00,391.81 558.50,392.69 559.00,393.36 559.50,391.69 560.00,391.92 560.50,394.21 561.00,391.91 561.50,393.43 562.00,394.41 562.50,392.09 563.00,391.61 563.50,391.55 564.00,394.04 564.50,392.81 565.00,392.85 565.50,392.49 566.00,392.98 566.50,394.19 567.00,394.36 567.50,392.66 568.00,393.98 568.50,393.20 569.00,393.99 569.50,391.69 570.00,393.41 570.50,394.29 571.00,394.44 571.50,394.30 572.00,391.63 572.50,394.39 573.00,393.54 573.50,394.30 574.00,393.59 574.50,393.92 575.00,390.58 575.50,392.74 576.00,391.51 576.50,391.84 577.00,391.55 577.50,393.36 578.00,393.40 578.50,393.30 579.00,392.28 579.50,393.82 580.00,391.83 580.50,393.53 581.00,394.51 581.50,390.89 582.00,394.64 582.50,394.19 583.00,392.23 583.50,392.43 584.00,393.05 584.50,393.41 585.00,392.15 585.50,394.40 586.00,393.88 586.50,391.76 587.00,392.31 587.50,393.79 588.00,391.99 588.50,393.15 589.00,391.92 589.50,392.21 590.00,393.03 590.50,392.91 591.00,394.71 591.50,392.01 592.00,392.02 592.50,394.41 593.00,392.26 593.50,393.76 594.00,393.61 594.50,392.41 595.00,393.53 595.50,391.95 596.00,391.69 596.50,394.03 597.00,393.02 597.50,393.39 598.00,394.41 598.50,393.28 599.00,393.64 599.50,393.21 600.00,392.27 600.50,392.21 601.00,392.67 601.50,392.05 602.00,392.69 602.50,393.94 603.00,394.44 603.50,391.83 604.00,391.98 604.50,394.55 605.00,394.61 605.50,393.19 606.00,394.02 606.50,393.10 607.00,393.80 607.50,392.56 608.00,393.05 608.50,392.63 609.00,394.10 609.50,394.36 610.00,393.02 610.50,393.65 611.00,393.89 611.50,392.23 612.00,391.80 612.50,393.36 613.00,394.78 613.50,392.84 614.00,394.32 614.50,391.47 615.00,392.62 615.50,392.77 616.00,392.08 616.50,393.61 617.00,392.78 617.50,391.96 618.00,392.42 618.50,392.02 619.00,393.17 619.50,392.53 620.00,392.83 620.50,394.05 621.00,394.73 621.50,393.93 622.00,392.41 622.50,394.84 623.00,391.53 623.50,392.51 624.00,392.65 624.50,393.19 625.00,392.48 625.50,394.83 626.00,394.04 626.50,393.56 627.00,394.93 627.50,394.40 628.00,397.37 628.50,397.92 629.00,401.35 629.50,396.54 630.00,397.77 630.50,394.84 631.00,397.14 631.50,397.02 632.00,399.68 632.50,398.14 633.00,396.99 633.50,395.84 634.00,396.93 634.50,398.94 635.00,395.16 635.50,396.20 636.00,400.85 636.50,399.15 637.00,397.17 637.50,398.06 638.00,394.51 638.50,398.55 639.00,399.60 639.50,401.36 640.00,396.06 640.50,401.02 641.00,398.62 641.50,395.89 642.00,397.87 642.50,396.59 643.00,395.51 643.50,397.60 644.00,398.42 644.50,396.99 645.00,396.76 645.50,393.11 646.00,396.43 646.50,395.82 647.00,398.66 647.50,395.64 648.00,394.83 648.50,400.55 649.00,396.78 649.50,400.90 650.00,406.98 650.50,406.98 651.00,406.98 651.50,413.77 652.00,414.41 652.50,417.02 653.00,416.51 653.50,409.19 654.00,414.03 654.50,415.35 655.00,414.33 655.50,415.70 656.00,413.94 656.50,413.72 657.00,414.88 657.50,415.02 658.00,416.07 658.50,415.53 659.00,415.85 659.50,415.16 660.00,416.85 660.50,413.70 661.00,416.52 661.50,415.21 662.00,416.93 662.50,415.26 663.00,413.70 663.50,402.64 664.00,402.64 664.50,402.64 665.00,417.19 665.50,416.36 666.00,416.42 666.50,413.37 667.00,414.19 667.50,416.85 668.00,413.82 668.50,415.03 669.00,416.35 669.50,416.78 670.00,409.15 670.50,416.43 671.00,415.19 671.50,413.66 672.00,417.17 672.50,415.39 673.00,413.14 673.50,417.12 674.00,414.96 674.50,416.34 675.00,415.89 675.50,413.79 676.00,409.47 676.50,417.29 677.00,413.46 677.50,414.80 678.00,415.44 678.50,415.13 679.00,416.70 679.50,402.64 680.00,402.64 680.50,402.64 681.00,416.02 681.50,415.46 682.00,411.78 682.50,414.06 683.00,416.12 683.50,414.06 684.00,416.08 684.00,420" fill="#000"/>
<line x1="119.30" y1="376.60" x2="119.30" y2="420.30" stroke="#111" stroke-width="1.2" />
<line x1="114.80" y1="376.60" x2="119.30" y2="376.60" stroke="#111" stroke-width="1.2" />
<line x1="116.30" y1="398.30" x2="119.30" y2="398.30" stroke="#111" stroke-width="1.2" />
<line x1="114.80" y1="420.00" x2="119.30" y2="420.00" stroke="#111" stroke-width="1.2" />
<line x1="425.30" y1="376.60" x2="425.30" y2="420.30" stroke="#111" stroke-width="1.2" />
<line x1="420.80" y1="376.60" x2="425.30" y2="376.60" stroke="#111" stroke-width="1.2" />
<line x1="422.30" y1="398.30" x2="425.30" y2="398.30" stroke="#111" stroke-width="1.2" />
<line x1="420.80" y1="420.00" x2="425.30" y2="420.00" stroke="#111" stroke-width="1.2" />
<text x="112.00" y="380.80" font-size="11.6" text-anchor="end" font-weight="normal" >1</text>
<text x="112.00" y="424.20" font-size="11.6" text-anchor="end" font-weight="normal" >0</text>
<text x="419.00" y="380.80" font-size="11.6" text-anchor="end" font-weight="normal" >1</text>
<text x="419.00" y="424.20" font-size="11.6" text-anchor="end" font-weight="normal" >0</text>
<line x1="119.40" y1="434.00" x2="119.40" y2="478.30" stroke="#333" stroke-width="1.2" />
<line x1="114.90" y1="434.00" x2="119.40" y2="434.00" stroke="#333" stroke-width="1.2" />
<line x1="116.40" y1="448.60" x2="119.40" y2="448.60" stroke="#333" stroke-width="1.2" />
<line x1="116.40" y1="463.20" x2="119.40" y2="463.20" stroke="#333" stroke-width="1.2" />
<line x1="114.90" y1="478.00" x2="119.40" y2="478.00" stroke="#333" stroke-width="1.2" />
<line x1="119.40" y1="478.00" x2="381.00" y2="478.00" stroke="#333" stroke-width="1.2" />
<line x1="119.40" y1="478.00" x2="119.40" y2="482.50" stroke="#333" stroke-width="1.2" />
<text x="119.40" y="494.20" font-size="11.6" text-anchor="middle" font-weight="normal" >0</text>
<line x1="153.75" y1="478.00" x2="153.75" y2="481.00" stroke="#333" stroke-width="1.2" />
<line x1="188.10" y1="478.00" x2="188.10" y2="482.50" stroke="#333" stroke-width="1.2" />
<text x="188.10" y="494.20" font-size="11.6" text-anchor="middle" font-weight="normal" >1</text>
<line x1="222.45" y1="478.00" x2="222.45" y2="481.00" stroke="#333" stroke-width="1.2" />
<line x1="256.80" y1="478.00" x2="256.80" y2="482.50" stroke="#333" stroke-width="1.2" />
<text x="256.80" y="494.20" font-size="11.6" text-anchor="middle" font-weight="normal" >2</text>
<line x1="291.15" y1="478.00" x2="291.15" y2="481.00" stroke="#333" stroke-width="1.2" />
<line x1="325.50" y1="478.00" x2="325.50" y2="482.50" stroke="#333" stroke-width="1.2" />
<text x="325.50" y="494.20" font-size="11.6" text-anchor="middle" font-weight="normal" >3</text>
<line x1="359.85" y1="478.00" x2="359.85" y2="481.00" stroke="#333" stroke-width="1.2" />
<text x="113.10" y="438.40" font-size="11.8" text-anchor="end" font-weight="normal" >600</text>
<text x="113.10" y="482.20" font-size="11.6" text-anchor="end" font-weight="normal" >0</text>
<line x1="425.60" y1="434.00" x2="425.60" y2="478.30" stroke="#333" stroke-width="1.2" />
<line x1="421.10" y1="434.00" x2="425.60" y2="434.00" stroke="#333" stroke-width="1.2" />
<line x1="422.60" y1="448.60" x2="425.60" y2="448.60" stroke="#333" stroke-width="1.2" />
<line x1="422.60" y1="463.20" x2="425.60" y2="463.20" stroke="#333" stroke-width="1.2" />
<line x1="421.10" y1="478.00" x2="425.60" y2="478.00" stroke="#333" stroke-width="1.2" />
<line x1="425.60" y1="478.00" x2="683.80" y2="478.00" stroke="#333" stroke-width="1.2" />
<line x1="425.60" y1="478.00" x2="425.60" y2="482.50" stroke="#333" stroke-width="1.2" />
<text x="425.60" y="494.20" font-size="11.6" text-anchor="middle" font-weight="normal" >0</text>
<line x1="459.95" y1="478.00" x2="459.95" y2="481.00" stroke="#333" stroke-width="1.2" />
<line x1="494.30" y1="478.00" x2="494.30" y2="482.50" stroke="#333" stroke-width="1.2" />
<text x="494.30" y="494.20" font-size="11.6" text-anchor="middle" font-weight="normal" >1</text>
<line x1="528.65" y1="478.00" x2="528.65" y2="481.00" stroke="#333" stroke-width="1.2" />
<line x1="563.00" y1="478.00" x2="563.00" y2="482.50" stroke="#333" stroke-width="1.2" />
<text x="563.00" y="494.20" font-size="11.6" text-anchor="middle" font-weight="normal" >2</text>
<line x1="597.35" y1="478.00" x2="597.35" y2="481.00" stroke="#333" stroke-width="1.2" />
<line x1="631.70" y1="478.00" x2="631.70" y2="482.50" stroke="#333" stroke-width="1.2" />
<text x="631.70" y="494.20" font-size="11.6" text-anchor="middle" font-weight="normal" >3</text>
<line x1="666.05" y1="478.00" x2="666.05" y2="481.00" stroke="#333" stroke-width="1.2" />
<text x="419.30" y="438.40" font-size="11.8" text-anchor="end" font-weight="normal" >3,000</text>
<text x="419.30" y="482.20" font-size="11.6" text-anchor="end" font-weight="normal" >0</text>
<text x="244.50" y="507.40" font-size="12.1" text-anchor="middle" font-weight="normal" >Position (Mb)</text>
<text x="551.00" y="507.40" font-size="12.1" text-anchor="middle" font-weight="normal" >Position (Mb)</text>
<line x1="163.46" y1="477.20" x2="164.26" y2="477.20" stroke="#444" stroke-width="0.6" />
<line x1="175.61" y1="477.20" x2="176.41" y2="477.20" stroke="#444" stroke-width="0.6" />
<line x1="191.98" y1="477.20" x2="192.78" y2="477.20" stroke="#444" stroke-width="0.6" />
<line x1="194.40" y1="477.20" x2="195.20" y2="477.20" stroke="#444" stroke-width="0.6" />
<line x1="217.04" y1="477.20" x2="217.84" y2="477.20" stroke="#444" stroke-width="0.6" />
<line x1="220.43" y1="477.20" x2="221.23" y2="477.20" stroke="#444" stroke-width="0.6" />
<line x1="225.43" y1="477.20" x2="226.23" y2="477.20" stroke="#444" stroke-width="0.6" />
<line x1="227.69" y1="477.20" x2="228.49" y2="477.20" stroke="#444" stroke-width="0.6" />
<line x1="239.82" y1="477.20" x2="240.62" y2="477.20" stroke="#444" stroke-width="0.6" />
<line x1="243.47" y1="477.20" x2="244.27" y2="477.20" stroke="#444" stroke-width="0.6" />
<line x1="256.74" y1="477.20" x2="257.54" y2="477.20" stroke="#444" stroke-width="0.6" />
<line x1="267.90" y1="477.20" x2="268.70" y2="477.20" stroke="#444" stroke-width="0.6" />
<line x1="275.94" y1="477.20" x2="276.74" y2="477.20" stroke="#444" stroke-width="0.6" />
<line x1="280.14" y1="477.20" x2="280.94" y2="477.20" stroke="#444" stroke-width="0.6" />
<line x1="284.36" y1="477.20" x2="285.16" y2="477.20" stroke="#444" stroke-width="0.6" />
<line x1="289.55" y1="477.20" x2="290.35" y2="477.20" stroke="#444" stroke-width="0.6" />
<line x1="298.81" y1="477.20" x2="299.61" y2="477.20" stroke="#444" stroke-width="0.6" />
<line x1="301.08" y1="477.20" x2="301.88" y2="477.20" stroke="#444" stroke-width="0.6" />
<line x1="309.64" y1="477.20" x2="310.44" y2="477.20" stroke="#444" stroke-width="0.6" />
<line x1="315.18" y1="477.20" x2="315.98" y2="477.20" stroke="#444" stroke-width="0.6" />
<line x1="325.35" y1="477.20" x2="326.15" y2="477.20" stroke="#444" stroke-width="0.6" />
<line x1="329.82" y1="477.20" x2="330.62" y2="477.20" stroke="#444" stroke-width="0.6" />
<line x1="334.24" y1="477.20" x2="335.04" y2="477.20" stroke="#444" stroke-width="0.6" />
<line x1="347.52" y1="477.20" x2="348.32" y2="477.20" stroke="#444" stroke-width="0.6" />
<line x1="349.99" y1="477.20" x2="350.79" y2="477.20" stroke="#444" stroke-width="0.6" />
<line x1="355.21" y1="477.20" x2="356.01" y2="477.20" stroke="#444" stroke-width="0.6" />
<line x1="362.92" y1="477.20" x2="363.72" y2="477.20" stroke="#444" stroke-width="0.6" />
<line x1="374.48" y1="477.20" x2="375.28" y2="477.20" stroke="#444" stroke-width="0.6" />
<line x1="380.23" y1="477.20" x2="381.03" y2="477.20" stroke="#444" stroke-width="0.6" />
<line x1="476.81" y1="477.20" x2="477.61" y2="477.20" stroke="#444" stroke-width="0.6" />
<line x1="484.95" y1="477.20" x2="485.75" y2="477.20" stroke="#444" stroke-width="0.6" />
<line x1="490.54" y1="477.20" x2="491.34" y2="477.20" stroke="#444" stroke-width="0.6" />
<line x1="495.56" y1="477.20" x2="496.36" y2="477.20" stroke="#444" stroke-width="0.6" />
<line x1="548.69" y1="477.20" x2="549.49" y2="477.20" stroke="#444" stroke-width="0.6" />
<line x1="562.07" y1="477.20" x2="562.87" y2="477.20" stroke="#444" stroke-width="0.6" />
<line x1="564.18" y1="477.20" x2="564.98" y2="477.20" stroke="#444" stroke-width="0.6" />
<line x1="569.42" y1="477.20" x2="570.22" y2="477.20" stroke="#444" stroke-width="0.6" />
<line x1="573.69" y1="477.20" x2="574.49" y2="477.20" stroke="#444" stroke-width="0.6" />
<line x1="595.14" y1="477.20" x2="595.94" y2="477.20" stroke="#444" stroke-width="0.6" />
<line x1="611.93" y1="477.20" x2="612.73" y2="477.20" stroke="#444" stroke-width="0.6" />
<line x1="635.36" y1="477.20" x2="636.16" y2="477.20" stroke="#444" stroke-width="0.6" />
<line x1="312.70" y1="478.00" x2="312.70" y2="443.80" stroke="#666" stroke-width="0.9" />
<line x1="318.80" y1="478.00" x2="318.80" y2="433.80" stroke="#666" stroke-width="0.9" />
<line x1="464.50" y1="478.00" x2="464.50" y2="438.50" stroke="#333" stroke-width="0.9" />
<polygon points="466,478 467,462 467.8,452 468.4,433.8 468.9,452 469.8,448 470.3,462 470.8,478" fill="#3a3a3a"/>
<polygon points="466.5,478 467.5,458 468.3,440 468.6,440 469.2,458 469.8,450 470.2,478" fill="#111"/>
<line x1="311.30" y1="306.95" x2="311.30" y2="478.00" stroke="#000" stroke-width="1.25" stroke-dasharray="2 2.03"/>
<line x1="320.60" y1="306.95" x2="320.60" y2="478.00" stroke="#000" stroke-width="1.25" stroke-dasharray="2 2.03"/>
<line x1="463.40" y1="306.95" x2="463.40" y2="478.00" stroke="#000" stroke-width="1.25" stroke-dasharray="2 2.03"/>
<line x1="472.50" y1="306.95" x2="472.50" y2="478.00" stroke="#000" stroke-width="1.25" stroke-dasharray="2 2.03"/>
<text x="316.00" y="297.40" font-size="10.7" text-anchor="middle" font-weight="normal" >Kinetochore site</text>
<line x1="311.20" y1="303.70" x2="320.70" y2="303.70" stroke="#333" stroke-width="1" />
<line x1="315.90" y1="299.40" x2="315.90" y2="303.70" stroke="#333" stroke-width="1" />
<text x="468.30" y="297.30" font-size="10.2" text-anchor="middle" font-weight="normal" >Kinetochore site</text>
<line x1="463.20" y1="303.70" x2="473.00" y2="303.70" stroke="#333" stroke-width="1" />
<line x1="468.00" y1="299.40" x2="468.00" y2="303.70" stroke="#333" stroke-width="1" />
</svg></body></html>
